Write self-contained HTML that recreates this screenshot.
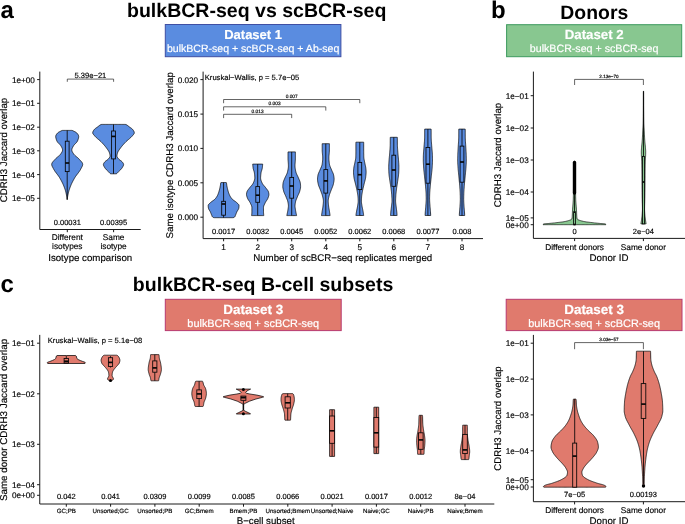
<!DOCTYPE html>
<html><head><meta charset="utf-8"><title>Figure</title>
<style>
html,body{margin:0;padding:0;background:#fff;}
svg{display:block;font-family:"Liberation Sans", Arial, Helvetica, sans-serif;text-rendering:geometricPrecision;}
</style></head>
<body>
<svg width="685" height="524" viewBox="0 0 685 524">
<rect x="0" y="0" width="685" height="524" fill="#fff"/>
<g style="will-change:opacity">
<text x="0.4" y="17.8" font-size="24" text-anchor="start" font-weight="bold" fill="#000">a</text>
<text x="491" y="17.8" font-size="24" text-anchor="start" font-weight="bold" fill="#000">b</text>
<text x="0.4" y="292" font-size="24" text-anchor="start" font-weight="bold" fill="#000">c</text>
<text x="256.7" y="17" font-size="19.55" text-anchor="middle" font-weight="bold" fill="#000">bulkBCR-seq vs scBCR-seq</text>
<text x="594.3" y="19" font-size="19.4" text-anchor="middle" font-weight="bold" fill="#000">Donors</text>
<text x="263.1" y="291" font-size="19.55" text-anchor="middle" font-weight="bold" fill="#000">bulkBCR-seq B-cell subsets</text>
<rect x="165.3" y="24.5" width="175.6" height="32.2" fill="#5A8CE0" stroke="#3F4FA3" stroke-width="1"/>
<text x="253.1" y="38.8" font-size="13" text-anchor="middle" font-weight="bold" fill="#fff" stroke="#fff" stroke-width="0.18">Dataset 1</text>
<text x="253.1" y="51.7" font-size="10.55" text-anchor="middle" font-weight="normal" fill="#fff" stroke="#fff" stroke-width="0.18">bulkBCR-seq + scBCR-seq + Ab-seq</text>
<rect x="506.6" y="24.7" width="175.1" height="32" fill="#88C790" stroke="#3C9A5E" stroke-width="1"/>
<text x="594.15" y="39" font-size="13.25" text-anchor="middle" font-weight="bold" fill="#fff" stroke="#fff" stroke-width="0.18">Dataset 2</text>
<text x="594.15" y="51.9" font-size="10.65" text-anchor="middle" font-weight="normal" fill="#fff" stroke="#fff" stroke-width="0.18">bulkBCR-seq + scBCR-seq</text>
<rect x="165.3" y="299.3" width="175.9" height="31.3" fill="#E07A6D" stroke="#B83A70" stroke-width="1"/>
<text x="253.25" y="313.6" font-size="13.45" text-anchor="middle" font-weight="bold" fill="#fff" stroke="#fff" stroke-width="0.18">Dataset 3</text>
<text x="253.25" y="326.5" font-size="10.92" text-anchor="middle" font-weight="normal" fill="#fff" stroke="#fff" stroke-width="0.18">bulkBCR-seq + scBCR-seq</text>
<rect x="506.2" y="299.3" width="175.8" height="31.3" fill="#E07A6D" stroke="#B83A70" stroke-width="1"/>
<text x="594.1" y="313.6" font-size="13.45" text-anchor="middle" font-weight="bold" fill="#fff" stroke="#fff" stroke-width="0.18">Dataset 3</text>
<text x="594.1" y="326.5" font-size="10.92" text-anchor="middle" font-weight="normal" fill="#fff" stroke="#fff" stroke-width="0.18">bulkBCR-seq + scBCR-seq</text>
<path d="M39.8,71.6 V229.5 H140.7" fill="none" stroke="#1a1a1a" stroke-width="1.0"/>
<line x1="37.1" y1="79.6" x2="39.8" y2="79.6" stroke="#1a1a1a" stroke-width="1.0"/>
<line x1="37.1" y1="103.3" x2="39.8" y2="103.3" stroke="#1a1a1a" stroke-width="1.0"/>
<line x1="37.1" y1="127.2" x2="39.8" y2="127.2" stroke="#1a1a1a" stroke-width="1.0"/>
<line x1="37.1" y1="150.8" x2="39.8" y2="150.8" stroke="#1a1a1a" stroke-width="1.0"/>
<line x1="37.1" y1="174.6" x2="39.8" y2="174.6" stroke="#1a1a1a" stroke-width="1.0"/>
<line x1="37.1" y1="198.3" x2="39.8" y2="198.3" stroke="#1a1a1a" stroke-width="1.0"/>
<line x1="67.3" y1="229.5" x2="67.3" y2="232.2" stroke="#1a1a1a" stroke-width="1.0"/>
<line x1="113.6" y1="229.5" x2="113.6" y2="232.2" stroke="#1a1a1a" stroke-width="1.0"/>
<text x="34.9" y="82.5" font-size="8.2" text-anchor="end" font-weight="normal" fill="#000" stroke="#000" stroke-width="0.16">1e+00</text>
<text x="34.9" y="106.2" font-size="8.2" text-anchor="end" font-weight="normal" fill="#000" stroke="#000" stroke-width="0.16">1e−01</text>
<text x="34.9" y="130.1" font-size="8.2" text-anchor="end" font-weight="normal" fill="#000" stroke="#000" stroke-width="0.16">1e−02</text>
<text x="34.9" y="153.7" font-size="8.2" text-anchor="end" font-weight="normal" fill="#000" stroke="#000" stroke-width="0.16">1e−03</text>
<text x="34.9" y="177.5" font-size="8.2" text-anchor="end" font-weight="normal" fill="#000" stroke="#000" stroke-width="0.16">1e−04</text>
<text x="34.9" y="201.2" font-size="8.2" text-anchor="end" font-weight="normal" fill="#000" stroke="#000" stroke-width="0.16">1e−05</text>
<text x="6.9" y="150" font-size="9.7" text-anchor="middle" font-weight="normal" fill="#000" stroke="#000" stroke-width="0.16" transform="rotate(-90 6.9 150)">CDRH3 Jaccard overlap</text>
<path d="M67.3,81.8 V79.1 H113.6 V81.8" fill="none" stroke="#111" stroke-width="0.65"/>
<text x="90.4" y="78" font-size="7.6" text-anchor="middle" font-weight="normal" fill="#000" stroke="#000" stroke-width="0.16">5.39e−21</text>
<path d="M67.2,130.4 L68.01,130.4 L68.81,130.4 L69.59,130.4 L70.37,130.4 L71.13,130.4 L71.7,130.4 L71.89,130.41 L72.63,130.61 L73.35,130.97 L74,131.3 L74.06,131.33 L74.79,131.68 L75.51,132.06 L76.18,132.48 L76.75,132.95 L76.8,133 L77.25,133.5 L77.76,134.16 L78.21,134.87 L78.54,135.62 L78.7,136.36 L78.7,136.5 L78.67,137.1 L78.54,137.87 L78.35,138.65 L78.1,139.43 L77.83,140.19 L77.54,140.9 L77.5,141 L77.21,141.56 L76.78,142.18 L76.26,142.78 L75.69,143.35 L75.11,143.93 L74.54,144.51 L74.01,145.1 L73.56,145.73 L73.4,146 L73.18,146.4 L72.79,147.11 L72.41,147.84 L72.09,148.59 L71.87,149.33 L71.8,150 L71.8,150.06 L71.91,150.79 L72.18,151.52 L72.56,152.25 L73,152.96 L73.45,153.63 L73.7,154 L73.88,154.26 L74.36,154.83 L74.9,155.38 L75.49,155.91 L76.1,156.41 L76.73,156.92 L77.36,157.43 L77.96,157.95 L78.53,158.49 L79,159 L79.05,159.06 L79.59,159.66 L80.17,160.27 L80.76,160.9 L81.33,161.55 L81.84,162.2 L82.26,162.87 L82.55,163.54 L82.69,164.22 L82.7,164.4 L82.66,164.91 L82.47,165.63 L82.18,166.37 L81.82,167.11 L81.42,167.84 L81.03,168.56 L80.8,169 L80.67,169.25 L80.29,169.93 L79.88,170.59 L79.45,171.24 L79.01,171.88 L78.54,172.51 L78.07,173.14 L77.59,173.77 L77.1,174.39 L76.63,175.02 L76.16,175.66 L75.7,176.29 L75.26,176.94 L74.84,177.6 L74.6,178 L74.44,178.27 L74.06,178.95 L73.68,179.63 L73.3,180.32 L72.93,181.01 L72.57,181.71 L72.21,182.41 L71.87,183.11 L71.53,183.82 L71.21,184.54 L70.9,185.26 L70.61,185.98 L70.6,186 L70.32,186.7 L70.05,187.43 L69.77,188.17 L69.51,188.91 L69.27,189.65 L69.03,190.4 L68.82,191.16 L68.62,191.91 L68.6,192 L68.44,192.67 L68.27,193.42 L68.1,194.19 L67.94,194.95 L67.79,195.72 L67.65,196.49 L67.52,197.26 L67.4,198.04 L67.29,198.82 L67.2,199.6 L67.2,199.6 L67.11,198.82 L67,198.04 L66.88,197.26 L66.75,196.49 L66.61,195.72 L66.46,194.95 L66.3,194.19 L66.13,193.42 L65.96,192.67 L65.8,192 L65.78,191.91 L65.58,191.16 L65.37,190.4 L65.13,189.65 L64.89,188.91 L64.63,188.17 L64.35,187.43 L64.08,186.7 L63.8,186 L63.79,185.98 L63.5,185.26 L63.19,184.54 L62.87,183.82 L62.53,183.11 L62.19,182.41 L61.83,181.71 L61.47,181.01 L61.1,180.32 L60.72,179.63 L60.34,178.95 L59.96,178.27 L59.8,178 L59.56,177.6 L59.14,176.94 L58.7,176.29 L58.24,175.66 L57.77,175.02 L57.3,174.39 L56.81,173.77 L56.33,173.14 L55.86,172.51 L55.39,171.88 L54.95,171.24 L54.52,170.59 L54.11,169.93 L53.73,169.25 L53.6,169 L53.37,168.56 L52.98,167.84 L52.58,167.11 L52.22,166.37 L51.93,165.63 L51.74,164.91 L51.7,164.4 L51.71,164.22 L51.85,163.54 L52.14,162.87 L52.56,162.2 L53.07,161.55 L53.64,160.9 L54.23,160.27 L54.81,159.66 L55.35,159.06 L55.4,159 L55.87,158.49 L56.44,157.95 L57.04,157.43 L57.67,156.92 L58.3,156.41 L58.91,155.91 L59.5,155.38 L60.04,154.83 L60.52,154.26 L60.7,154 L60.95,153.63 L61.4,152.96 L61.84,152.25 L62.22,151.52 L62.49,150.79 L62.6,150.06 L62.6,150 L62.53,149.33 L62.31,148.59 L61.99,147.84 L61.61,147.11 L61.22,146.4 L61,146 L60.84,145.73 L60.39,145.1 L59.86,144.51 L59.29,143.93 L58.71,143.35 L58.14,142.78 L57.62,142.18 L57.19,141.56 L56.9,141 L56.86,140.9 L56.57,140.19 L56.3,139.43 L56.05,138.65 L55.86,137.87 L55.73,137.1 L55.7,136.5 L55.7,136.36 L55.86,135.62 L56.19,134.87 L56.64,134.16 L57.15,133.5 L57.6,133 L57.65,132.95 L58.22,132.48 L58.89,132.06 L59.61,131.68 L60.34,131.33 L60.4,131.3 L61.05,130.97 L61.77,130.61 L62.51,130.41 L62.7,130.4 L63.27,130.4 L64.03,130.4 L64.81,130.4 L65.59,130.4 L66.39,130.4 L67.2,130.4Z" fill="#5A8CE0" stroke="#0a0a0a" stroke-width="0.75" stroke-linejoin="round"/>
<line x1="67.2" y1="130.4" x2="67.2" y2="199.6" stroke="#050505" stroke-width="0.85"/>
<rect x="65.3" y="141.2" width="3.8" height="30.4" fill="#5A8CE0" stroke="#050505" stroke-width="0.85"/>
<line x1="65.3" y1="163" x2="69.1" y2="163" stroke="#050505" stroke-width="1.65"/>
<path d="M113.5,124.4 L114.35,124.4 L115.19,124.4 L116.02,124.4 L116.84,124.4 L117.64,124.4 L118.44,124.4 L119.23,124.4 L120.01,124.4 L120.77,124.4 L121.53,124.4 L122.28,124.4 L123.03,124.4 L123.76,124.4 L124.49,124.4 L125.1,124.4 L125.2,124.4 L125.91,124.54 L126.6,124.85 L127.28,125.28 L127.95,125.78 L128.6,126.31 L129.25,126.82 L129.5,127 L129.89,127.27 L130.55,127.72 L131.22,128.19 L131.85,128.68 L132.44,129.21 L132.93,129.77 L133.1,130 L133.35,130.38 L133.76,131.09 L134.1,131.85 L134.29,132.59 L134.3,132.8 L134.23,133.28 L133.9,133.96 L133.41,134.62 L132.85,135.26 L132.3,135.88 L132.2,136 L131.8,136.47 L131.28,137.03 L130.72,137.57 L130.15,138.09 L129.55,138.61 L128.95,139.12 L128.34,139.62 L127.74,140.13 L127.14,140.64 L126.56,141.17 L125.99,141.71 L125.7,142 L125.45,142.26 L124.9,142.83 L124.37,143.4 L123.83,143.97 L123.3,144.55 L122.78,145.14 L122.27,145.73 L121.77,146.34 L121.29,146.95 L120.82,147.56 L120.5,148 L120.36,148.19 L119.9,148.83 L119.43,149.47 L118.97,150.13 L118.54,150.8 L118.14,151.48 L117.8,152.17 L117.54,152.88 L117.5,153 L117.32,153.62 L117.12,154.41 L116.97,155.19 L116.9,155.94 L116.9,156 L117.02,156.66 L117.38,157.36 L117.88,158.03 L118.42,158.67 L118.7,159 L118.92,159.25 L119.5,159.76 L120.15,160.23 L120.82,160.69 L121.46,161.17 L122.03,161.68 L122.3,162 L122.5,162.27 L122.98,162.94 L123.39,163.66 L123.6,164.38 L123.6,164.5 L123.53,165.09 L123.27,165.83 L122.9,166.56 L122.47,167.27 L122.04,167.94 L122,168 L121.61,168.56 L121.12,169.15 L120.58,169.73 L120.01,170.28 L119.42,170.83 L118.85,171.36 L118.7,171.5 L118.28,171.94 L117.72,172.61 L117.14,173.23 L116.52,173.67 L116,173.8 L115.86,173.8 L115.13,173.8 L114.34,173.8 L113.5,173.8 L113.5,173.8 L112.66,173.8 L111.87,173.8 L111.14,173.8 L111,173.8 L110.48,173.67 L109.86,173.23 L109.28,172.61 L108.72,171.94 L108.3,171.5 L108.15,171.36 L107.58,170.83 L106.99,170.28 L106.42,169.73 L105.88,169.15 L105.39,168.56 L105,168 L104.96,167.94 L104.53,167.27 L104.1,166.56 L103.73,165.83 L103.47,165.09 L103.4,164.5 L103.4,164.38 L103.61,163.66 L104.02,162.94 L104.5,162.27 L104.7,162 L104.97,161.68 L105.54,161.17 L106.18,160.69 L106.85,160.23 L107.5,159.76 L108.08,159.25 L108.3,159 L108.58,158.67 L109.12,158.03 L109.62,157.36 L109.98,156.66 L110.1,156 L110.1,155.94 L110.03,155.19 L109.88,154.41 L109.68,153.62 L109.5,153 L109.46,152.88 L109.2,152.17 L108.86,151.48 L108.46,150.8 L108.03,150.13 L107.57,149.47 L107.1,148.83 L106.64,148.19 L106.5,148 L106.18,147.56 L105.71,146.95 L105.23,146.34 L104.73,145.73 L104.22,145.14 L103.7,144.55 L103.17,143.97 L102.63,143.4 L102.1,142.83 L101.55,142.26 L101.3,142 L101.01,141.71 L100.44,141.17 L99.86,140.64 L99.26,140.13 L98.66,139.62 L98.05,139.12 L97.45,138.61 L96.85,138.09 L96.28,137.57 L95.72,137.03 L95.2,136.47 L94.8,136 L94.7,135.88 L94.15,135.26 L93.59,134.62 L93.1,133.96 L92.77,133.28 L92.7,132.8 L92.71,132.59 L92.9,131.85 L93.24,131.09 L93.65,130.38 L93.9,130 L94.07,129.77 L94.56,129.21 L95.15,128.68 L95.78,128.19 L96.45,127.72 L97.11,127.27 L97.5,127 L97.75,126.82 L98.4,126.31 L99.05,125.78 L99.72,125.28 L100.4,124.85 L101.09,124.54 L101.8,124.4 L101.9,124.4 L102.51,124.4 L103.24,124.4 L103.97,124.4 L104.72,124.4 L105.47,124.4 L106.23,124.4 L106.99,124.4 L107.77,124.4 L108.56,124.4 L109.36,124.4 L110.16,124.4 L110.98,124.4 L111.81,124.4 L112.65,124.4 L113.5,124.4Z" fill="#5A8CE0" stroke="#0a0a0a" stroke-width="0.75" stroke-linejoin="round"/>
<line x1="113.5" y1="124.4" x2="113.5" y2="173.8" stroke="#050505" stroke-width="0.85"/>
<rect x="111.6" y="131" width="3.8" height="27.9" fill="#5A8CE0" stroke="#050505" stroke-width="0.85"/>
<line x1="111.6" y1="136.4" x2="115.4" y2="136.4" stroke="#050505" stroke-width="1.65"/>
<text x="67.3" y="225" font-size="7.5" text-anchor="middle" font-weight="normal" fill="#000" stroke="#000" stroke-width="0.16">0.00031</text>
<text x="113.6" y="225" font-size="7.5" text-anchor="middle" font-weight="normal" fill="#000" stroke="#000" stroke-width="0.16">0.00395</text>
<text x="67.3" y="240.4" font-size="8.3" text-anchor="middle" font-weight="normal" fill="#000" stroke="#000" stroke-width="0.16">Different</text>
<text x="67.3" y="248.9" font-size="8.3" text-anchor="middle" font-weight="normal" fill="#000" stroke="#000" stroke-width="0.16">isotypes</text>
<text x="113.6" y="240.4" font-size="8.3" text-anchor="middle" font-weight="normal" fill="#000" stroke="#000" stroke-width="0.16">Same</text>
<text x="113.6" y="248.9" font-size="8.3" text-anchor="middle" font-weight="normal" fill="#000" stroke="#000" stroke-width="0.16">isotype</text>
<text x="90.2" y="260.5" font-size="9.7" text-anchor="middle" font-weight="normal" fill="#000" stroke="#000" stroke-width="0.16">Isotype comparison</text>
<path d="M203.1,71.6 V238.6 H483" fill="none" stroke="#1a1a1a" stroke-width="1.0"/>
<line x1="200.4" y1="79.6" x2="203.1" y2="79.6" stroke="#1a1a1a" stroke-width="1.0"/>
<line x1="200.4" y1="114.1" x2="203.1" y2="114.1" stroke="#1a1a1a" stroke-width="1.0"/>
<line x1="200.4" y1="148.4" x2="203.1" y2="148.4" stroke="#1a1a1a" stroke-width="1.0"/>
<line x1="200.4" y1="182.8" x2="203.1" y2="182.8" stroke="#1a1a1a" stroke-width="1.0"/>
<line x1="200.4" y1="217.2" x2="203.1" y2="217.2" stroke="#1a1a1a" stroke-width="1.0"/>
<line x1="223.6" y1="238.6" x2="223.6" y2="241.3" stroke="#1a1a1a" stroke-width="1.0"/>
<line x1="257.7" y1="238.6" x2="257.7" y2="241.3" stroke="#1a1a1a" stroke-width="1.0"/>
<line x1="291.7" y1="238.6" x2="291.7" y2="241.3" stroke="#1a1a1a" stroke-width="1.0"/>
<line x1="325.8" y1="238.6" x2="325.8" y2="241.3" stroke="#1a1a1a" stroke-width="1.0"/>
<line x1="359.8" y1="238.6" x2="359.8" y2="241.3" stroke="#1a1a1a" stroke-width="1.0"/>
<line x1="393.8" y1="238.6" x2="393.8" y2="241.3" stroke="#1a1a1a" stroke-width="1.0"/>
<line x1="427.9" y1="238.6" x2="427.9" y2="241.3" stroke="#1a1a1a" stroke-width="1.0"/>
<line x1="462" y1="238.6" x2="462" y2="241.3" stroke="#1a1a1a" stroke-width="1.0"/>
<text x="198.2" y="82.5" font-size="8.2" text-anchor="end" font-weight="normal" fill="#000" stroke="#000" stroke-width="0.16">0.020</text>
<text x="198.2" y="117" font-size="8.2" text-anchor="end" font-weight="normal" fill="#000" stroke="#000" stroke-width="0.16">0.015</text>
<text x="198.2" y="151.3" font-size="8.2" text-anchor="end" font-weight="normal" fill="#000" stroke="#000" stroke-width="0.16">0.010</text>
<text x="198.2" y="185.7" font-size="8.2" text-anchor="end" font-weight="normal" fill="#000" stroke="#000" stroke-width="0.16">0.005</text>
<text x="198.2" y="220.1" font-size="8.2" text-anchor="end" font-weight="normal" fill="#000" stroke="#000" stroke-width="0.16">0.000</text>
<text x="173.5" y="155.3" font-size="9.72" text-anchor="middle" font-weight="normal" fill="#000" stroke="#000" stroke-width="0.16" transform="rotate(-90 173.5 155.3)">Same isotype CDRH3 Jaccard overlap</text>
<text x="204.8" y="80" font-size="7.6" text-anchor="start" font-weight="normal" fill="#000" stroke="#000" stroke-width="0.16">Kruskal−Wallis, p = 5.7e−05</text>
<path d="M223.6,118.1 V114.3 H291.7 V118.1" fill="none" stroke="#111" stroke-width="0.65"/>
<text x="257.6" y="112.6" font-size="4.8" text-anchor="middle" font-weight="normal" fill="#000" stroke="#000" stroke-width="0.16">0.013</text>
<path d="M223.6,110.6 V106.8 H325.8 V110.6" fill="none" stroke="#111" stroke-width="0.65"/>
<text x="274.6" y="105.1" font-size="4.8" text-anchor="middle" font-weight="normal" fill="#000" stroke="#000" stroke-width="0.16">0.003</text>
<path d="M223.6,103.2 V99.5 H359.8 V103.2" fill="none" stroke="#111" stroke-width="0.65"/>
<text x="291.7" y="97.7" font-size="4.8" text-anchor="middle" font-weight="normal" fill="#000" stroke="#000" stroke-width="0.16">0.007</text>
<path d="M223.6,182.5 L224.63,182.5 L225.5,182.5 L226.1,182.5 L226.2,182.5 L226.36,182.65 L226.53,183.29 L226.66,184.24 L226.78,185.25 L226.9,186 L226.93,186.12 L227.09,186.89 L227.25,187.66 L227.42,188.43 L227.59,189.2 L227.79,189.96 L227.8,190 L228,190.72 L228.22,191.48 L228.45,192.24 L228.7,192.99 L228.97,193.73 L229.26,194.45 L229.5,195 L229.57,195.16 L229.93,195.86 L230.32,196.56 L230.75,197.24 L231.2,197.89 L231.68,198.51 L232.1,199 L232.18,199.09 L232.74,199.62 L233.35,200.1 L234.01,200.56 L234.67,201.01 L235.34,201.46 L235.97,201.94 L236.55,202.45 L236.6,202.5 L237.15,203.01 L237.8,203.59 L238.4,204.2 L238.84,204.84 L239,205.5 L239,205.52 L238.97,206.27 L238.91,207.09 L238.82,207.88 L238.8,208 L238.65,208.62 L238.35,209.32 L237.96,210.02 L237.52,210.71 L237.1,211.4 L236.8,212 L236.75,212.11 L236.45,212.84 L236.16,213.57 L235.88,214.31 L235.59,215.04 L235.4,215.5 L235.29,215.77 L234.98,216.52 L234.8,216.8 L234.51,217.1 L233.81,217.5 L233.8,217.5 L233.04,217.67 L232.6,217.7 L232.25,217.7 L231.47,217.7 L230.69,217.7 L229.91,217.7 L229.13,217.7 L228.34,217.7 L227.56,217.7 L226.77,217.7 L225.98,217.7 L225.19,217.7 L224.39,217.7 L223.6,217.7 L223.6,217.7 L222.81,217.7 L222.01,217.7 L221.22,217.7 L220.43,217.7 L219.64,217.7 L218.86,217.7 L218.07,217.7 L217.29,217.7 L216.51,217.7 L215.73,217.7 L214.95,217.7 L214.6,217.7 L214.16,217.67 L213.4,217.5 L213.39,217.5 L212.69,217.1 L212.4,216.8 L212.22,216.52 L211.91,215.77 L211.8,215.5 L211.61,215.04 L211.32,214.31 L211.04,213.57 L210.75,212.84 L210.45,212.11 L210.4,212 L210.1,211.4 L209.68,210.71 L209.24,210.02 L208.85,209.32 L208.55,208.62 L208.4,208 L208.38,207.88 L208.29,207.09 L208.23,206.27 L208.2,205.52 L208.2,205.5 L208.36,204.84 L208.8,204.2 L209.4,203.59 L210.05,203.01 L210.6,202.5 L210.65,202.45 L211.23,201.94 L211.86,201.46 L212.53,201.01 L213.19,200.56 L213.85,200.1 L214.46,199.62 L215.02,199.09 L215.1,199 L215.52,198.51 L216,197.89 L216.45,197.24 L216.88,196.56 L217.27,195.86 L217.63,195.16 L217.7,195 L217.94,194.45 L218.23,193.73 L218.5,192.99 L218.75,192.24 L218.98,191.48 L219.2,190.72 L219.4,190 L219.41,189.96 L219.61,189.2 L219.78,188.43 L219.95,187.66 L220.11,186.89 L220.27,186.12 L220.3,186 L220.42,185.25 L220.54,184.24 L220.67,183.29 L220.84,182.65 L221,182.5 L221.1,182.5 L221.7,182.5 L222.57,182.5 L223.6,182.5Z" fill="#5A8CE0" stroke="#0a0a0a" stroke-width="0.75" stroke-linejoin="round"/>
<line x1="223.6" y1="182.5" x2="223.6" y2="217.7" stroke="#050505" stroke-width="0.85"/>
<rect x="221.7" y="201.3" width="3.8" height="13.9" fill="#5A8CE0" stroke="#050505" stroke-width="0.85"/>
<line x1="221.7" y1="204" x2="225.5" y2="204" stroke="#050505" stroke-width="1.65"/>
<path d="M257.7,164.1 L258.93,164.1 L260.05,164.1 L261.03,164.1 L261.82,164.1 L262.39,164.1 L262.67,164.1 L262.7,164.1 L262.69,164.2 L262.64,164.76 L262.56,165.64 L262.46,166.66 L262.35,167.64 L262.3,168 L262.23,168.43 L262.04,169.19 L261.82,169.94 L261.58,170.69 L261.34,171.44 L261.14,172.19 L261.01,172.95 L261,173 L260.91,173.72 L260.82,174.5 L260.74,175.28 L260.68,176.07 L260.63,176.85 L260.6,177.62 L260.6,178 L260.61,178.39 L260.71,179.16 L260.9,179.93 L261.14,180.69 L261.43,181.44 L261.73,182.17 L262.04,182.87 L262.1,183 L262.37,183.54 L262.78,184.18 L263.24,184.81 L263.74,185.41 L264.27,186.01 L264.8,186.62 L265.31,187.22 L265.79,187.85 L265.9,188 L266.25,188.48 L266.75,189.11 L267.26,189.75 L267.73,190.4 L268.13,191.06 L268.43,191.75 L268.5,192 L268.62,192.47 L268.78,193.24 L268.88,194.03 L268.9,194.5 L268.89,194.8 L268.78,195.57 L268.58,196.34 L268.33,197.09 L268.06,197.83 L268,198 L267.78,198.54 L267.43,199.22 L267.02,199.89 L266.58,200.55 L266.13,201.2 L265.71,201.87 L265.32,202.55 L265.1,203 L264.99,203.25 L264.65,203.96 L264.3,204.69 L263.97,205.42 L263.71,206.16 L263.54,206.91 L263.5,207.5 L263.5,207.67 L263.5,208.44 L263.5,209.22 L263.5,210 L263.5,210.79 L263.5,211.57 L263.5,212 L263.51,212.38 L263.57,213.37 L263.66,214.38 L263.75,215.19 L263.8,215.59 L263.8,215.6 L263.71,215.6 L263.39,215.6 L262.84,215.6 L262.11,215.6 L261.2,215.6 L260.14,215.6 L258.97,215.6 L257.7,215.6 L257.7,215.6 L256.43,215.6 L255.26,215.6 L254.2,215.6 L253.29,215.6 L252.56,215.6 L252.01,215.6 L251.69,215.6 L251.6,215.6 L251.6,215.59 L251.65,215.19 L251.74,214.38 L251.83,213.37 L251.89,212.38 L251.9,212 L251.9,211.57 L251.9,210.79 L251.9,210 L251.9,209.22 L251.9,208.44 L251.9,207.67 L251.9,207.5 L251.86,206.91 L251.69,206.16 L251.43,205.42 L251.1,204.69 L250.75,203.96 L250.41,203.25 L250.3,203 L250.08,202.55 L249.69,201.87 L249.27,201.2 L248.82,200.55 L248.38,199.89 L247.97,199.22 L247.62,198.54 L247.4,198 L247.34,197.83 L247.07,197.09 L246.82,196.34 L246.62,195.57 L246.51,194.8 L246.5,194.5 L246.52,194.03 L246.62,193.24 L246.78,192.47 L246.9,192 L246.97,191.75 L247.27,191.06 L247.67,190.4 L248.14,189.75 L248.65,189.11 L249.15,188.48 L249.5,188 L249.61,187.85 L250.09,187.22 L250.6,186.62 L251.13,186.01 L251.66,185.41 L252.16,184.81 L252.62,184.18 L253.03,183.54 L253.3,183 L253.36,182.87 L253.67,182.17 L253.97,181.44 L254.26,180.69 L254.5,179.93 L254.69,179.16 L254.79,178.39 L254.8,178 L254.8,177.62 L254.77,176.85 L254.72,176.07 L254.66,175.28 L254.58,174.5 L254.49,173.72 L254.4,173 L254.39,172.95 L254.26,172.19 L254.06,171.44 L253.82,170.69 L253.58,169.94 L253.36,169.19 L253.17,168.43 L253.1,168 L253.05,167.64 L252.94,166.66 L252.84,165.64 L252.76,164.76 L252.71,164.2 L252.7,164.1 L252.73,164.1 L253.01,164.1 L253.58,164.1 L254.37,164.1 L255.35,164.1 L256.47,164.1 L257.7,164.1Z" fill="#5A8CE0" stroke="#0a0a0a" stroke-width="0.75" stroke-linejoin="round"/>
<line x1="257.7" y1="164.1" x2="257.7" y2="215.6" stroke="#050505" stroke-width="0.85"/>
<rect x="255.8" y="186.6" width="3.8" height="15.7" fill="#5A8CE0" stroke="#050505" stroke-width="0.85"/>
<line x1="255.8" y1="195.2" x2="259.6" y2="195.2" stroke="#050505" stroke-width="1.65"/>
<path d="M291.7,151.9 L292.8,151.9 L293.84,151.9 L294.71,151.9 L295.27,151.9 L295.4,151.9 L295.4,151.91 L295.4,152.2 L295.4,152.78 L295.4,153.59 L295.4,154.56 L295.4,155.59 L295.4,156.61 L295.4,157.56 L295.4,158 L295.4,158.37 L295.38,159.15 L295.34,159.93 L295.29,160.71 L295.24,161.5 L295.18,162.28 L295.12,163.06 L295.07,163.84 L295.03,164.62 L295.01,165.4 L295,166 L295,166.18 L295.03,166.96 L295.1,167.74 L295.21,168.52 L295.33,169.3 L295.48,170.08 L295.64,170.85 L295.81,171.6 L295.9,172 L295.99,172.35 L296.22,173.08 L296.51,173.8 L296.83,174.51 L297.18,175.22 L297.54,175.93 L297.89,176.64 L298.23,177.36 L298.5,178 L298.53,178.08 L298.83,178.81 L299.15,179.53 L299.47,180.26 L299.76,181 L300.01,181.73 L300.21,182.48 L300.3,183 L300.33,183.24 L300.43,184.01 L300.51,184.79 L300.57,185.58 L300.6,186.36 L300.6,186.5 L300.58,187.14 L300.49,187.92 L300.35,188.69 L300.18,189.47 L299.99,190.23 L299.8,190.98 L299.8,191 L299.59,191.72 L299.33,192.45 L299.03,193.17 L298.71,193.89 L298.37,194.6 L298.03,195.32 L297.7,196.03 L297.4,196.76 L297.3,197 L297.11,197.49 L296.8,198.21 L296.5,198.94 L296.2,199.67 L295.93,200.41 L295.7,201.15 L295.52,201.9 L295.5,202 L295.38,202.66 L295.24,203.44 L295.13,204.22 L295.04,205 L295,205.78 L295,206 L295.02,206.56 L295.09,207.33 L295.19,208.11 L295.32,208.89 L295.45,209.66 L295.5,210 L295.57,210.46 L295.74,211.41 L295.94,212.42 L296.14,213.42 L296.33,214.32 L296.48,215.04 L296.58,215.49 L296.6,215.6 L296.59,215.6 L296.33,215.6 L295.78,215.6 L294.98,215.6 L294,215.6 L292.89,215.6 L291.7,215.6 L291.7,215.6 L290.51,215.6 L289.4,215.6 L288.42,215.6 L287.62,215.6 L287.07,215.6 L286.81,215.6 L286.8,215.6 L286.82,215.49 L286.92,215.04 L287.07,214.32 L287.26,213.42 L287.46,212.42 L287.66,211.41 L287.83,210.46 L287.9,210 L287.95,209.66 L288.08,208.89 L288.21,208.11 L288.31,207.33 L288.38,206.56 L288.4,206 L288.4,205.78 L288.36,205 L288.27,204.22 L288.16,203.44 L288.02,202.66 L287.9,202 L287.88,201.9 L287.7,201.15 L287.47,200.41 L287.2,199.67 L286.9,198.94 L286.6,198.21 L286.29,197.49 L286.1,197 L286,196.76 L285.7,196.03 L285.37,195.32 L285.03,194.6 L284.69,193.89 L284.37,193.17 L284.07,192.45 L283.81,191.72 L283.6,191 L283.6,190.98 L283.41,190.23 L283.22,189.47 L283.05,188.69 L282.91,187.92 L282.82,187.14 L282.8,186.5 L282.8,186.36 L282.83,185.58 L282.89,184.79 L282.97,184.01 L283.07,183.24 L283.1,183 L283.19,182.48 L283.39,181.73 L283.64,181 L283.93,180.26 L284.25,179.53 L284.57,178.81 L284.87,178.08 L284.9,178 L285.17,177.36 L285.51,176.64 L285.86,175.93 L286.22,175.22 L286.57,174.51 L286.89,173.8 L287.18,173.08 L287.41,172.35 L287.5,172 L287.59,171.6 L287.76,170.85 L287.92,170.08 L288.07,169.3 L288.19,168.52 L288.3,167.74 L288.37,166.96 L288.4,166.18 L288.4,166 L288.39,165.4 L288.37,164.62 L288.33,163.84 L288.28,163.06 L288.22,162.28 L288.16,161.5 L288.11,160.71 L288.06,159.93 L288.02,159.15 L288,158.37 L288,158 L288,157.56 L288,156.61 L288,155.59 L288,154.56 L288,153.59 L288,152.78 L288,152.2 L288,151.91 L288,151.9 L288.13,151.9 L288.69,151.9 L289.56,151.9 L290.6,151.9 L291.7,151.9Z" fill="#5A8CE0" stroke="#0a0a0a" stroke-width="0.75" stroke-linejoin="round"/>
<line x1="291.7" y1="151.9" x2="291.7" y2="215.6" stroke="#050505" stroke-width="0.85"/>
<rect x="289.8" y="177.4" width="3.8" height="20.8" fill="#5A8CE0" stroke="#050505" stroke-width="0.85"/>
<line x1="289.8" y1="186" x2="293.6" y2="186" stroke="#050505" stroke-width="1.65"/>
<path d="M325.8,143.7 L326.88,143.7 L327.92,143.7 L328.77,143.7 L329.3,143.7 L329.4,143.7 L329.4,143.73 L329.4,144.03 L329.4,144.62 L329.4,145.43 L329.4,146.38 L329.4,147.4 L329.4,148.43 L329.4,149.39 L329.4,150 L329.4,150.21 L329.38,150.99 L329.34,151.76 L329.28,152.54 L329.21,153.32 L329.14,154.09 L329.07,154.87 L329,155.64 L328.95,156.42 L328.91,157.19 L328.9,157.97 L328.9,158 L328.91,158.75 L328.94,159.53 L328.99,160.31 L329.06,161.09 L329.13,161.87 L329.22,162.64 L329.32,163.41 L329.4,164 L329.42,164.16 L329.58,164.91 L329.8,165.65 L330.06,166.38 L330.35,167.11 L330.67,167.83 L330.99,168.55 L331.31,169.28 L331.6,170 L331.6,170 L331.9,170.72 L332.23,171.44 L332.57,172.15 L332.89,172.87 L333.19,173.59 L333.43,174.32 L333.6,175 L333.61,175.06 L333.75,175.81 L333.88,176.58 L333.99,177.36 L334.07,178.14 L334.1,178.92 L334.1,179 L334.08,179.69 L334.02,180.47 L333.92,181.24 L333.79,182.02 L333.64,182.79 L333.49,183.55 L333.4,184 L333.33,184.3 L333.14,185.04 L332.89,185.78 L332.62,186.5 L332.33,187.23 L332.02,187.95 L331.72,188.68 L331.42,189.4 L331.2,190 L331.15,190.13 L330.88,190.86 L330.6,191.59 L330.32,192.32 L330.04,193.05 L329.77,193.78 L329.52,194.52 L329.29,195.26 L329.1,196 L329.1,196.01 L328.91,196.76 L328.73,197.52 L328.55,198.28 L328.39,199.05 L328.28,199.82 L328.21,200.6 L328.2,201 L328.2,201.37 L328.23,202.14 L328.28,202.92 L328.35,203.69 L328.43,204.47 L328.52,205.25 L328.6,206 L328.6,206.02 L328.7,206.79 L328.81,207.56 L328.94,208.33 L329.07,209.09 L329.21,209.86 L329.34,210.63 L329.4,211 L329.47,211.43 L329.61,212.38 L329.77,213.4 L329.91,214.36 L330.03,215.11 L330.09,215.55 L330.1,215.6 L330.04,215.6 L329.66,215.6 L328.98,215.6 L328.06,215.6 L326.98,215.6 L325.8,215.6 L325.8,215.6 L324.62,215.6 L323.54,215.6 L322.62,215.6 L321.94,215.6 L321.56,215.6 L321.5,215.6 L321.51,215.55 L321.57,215.11 L321.69,214.36 L321.83,213.4 L321.99,212.38 L322.13,211.43 L322.2,211 L322.26,210.63 L322.39,209.86 L322.53,209.09 L322.66,208.33 L322.79,207.56 L322.9,206.79 L323,206.02 L323,206 L323.08,205.25 L323.17,204.47 L323.25,203.69 L323.32,202.92 L323.37,202.14 L323.4,201.37 L323.4,201 L323.39,200.6 L323.32,199.82 L323.21,199.05 L323.05,198.28 L322.87,197.52 L322.69,196.76 L322.5,196.01 L322.5,196 L322.31,195.26 L322.08,194.52 L321.83,193.78 L321.56,193.05 L321.28,192.32 L321,191.59 L320.72,190.86 L320.45,190.13 L320.4,190 L320.18,189.4 L319.88,188.68 L319.58,187.95 L319.27,187.23 L318.98,186.5 L318.71,185.78 L318.46,185.04 L318.27,184.3 L318.2,184 L318.11,183.55 L317.96,182.79 L317.81,182.02 L317.68,181.24 L317.58,180.47 L317.52,179.69 L317.5,179 L317.5,178.92 L317.53,178.14 L317.61,177.36 L317.72,176.58 L317.85,175.81 L317.99,175.06 L318,175 L318.17,174.32 L318.41,173.59 L318.71,172.87 L319.03,172.15 L319.37,171.44 L319.7,170.72 L320,170 L320,170 L320.29,169.28 L320.61,168.55 L320.93,167.83 L321.25,167.11 L321.54,166.38 L321.8,165.65 L322.02,164.91 L322.18,164.16 L322.2,164 L322.28,163.41 L322.38,162.64 L322.47,161.87 L322.54,161.09 L322.61,160.31 L322.66,159.53 L322.69,158.75 L322.7,158 L322.7,157.97 L322.69,157.19 L322.65,156.42 L322.6,155.64 L322.53,154.87 L322.46,154.09 L322.39,153.32 L322.32,152.54 L322.26,151.76 L322.22,150.99 L322.2,150.21 L322.2,150 L322.2,149.39 L322.2,148.43 L322.2,147.4 L322.2,146.38 L322.2,145.43 L322.2,144.62 L322.2,144.03 L322.2,143.73 L322.2,143.7 L322.3,143.7 L322.83,143.7 L323.68,143.7 L324.72,143.7 L325.8,143.7Z" fill="#5A8CE0" stroke="#0a0a0a" stroke-width="0.75" stroke-linejoin="round"/>
<line x1="325.8" y1="143.7" x2="325.8" y2="215.6" stroke="#050505" stroke-width="0.85"/>
<rect x="323.9" y="169.6" width="3.8" height="23.5" fill="#5A8CE0" stroke="#050505" stroke-width="0.85"/>
<line x1="323.9" y1="180.9" x2="327.7" y2="180.9" stroke="#050505" stroke-width="1.65"/>
<path d="M359.8,142.2 L360.87,142.2 L361.92,142.2 L362.83,142.2 L363.46,142.2 L363.7,142.2 L363.7,142.2 L363.7,142.35 L363.7,142.76 L363.7,143.4 L363.7,144.2 L363.7,145.13 L363.7,146.14 L363.7,147.17 L363.7,148.2 L363.7,149.15 L363.7,150 L363.7,150 L363.7,150.79 L363.71,151.57 L363.71,152.35 L363.72,153.13 L363.73,153.91 L363.75,154.69 L363.76,155.47 L363.78,156.25 L363.8,157 L363.8,157.03 L363.85,157.8 L363.94,158.57 L364.06,159.34 L364.2,160.11 L364.36,160.88 L364.53,161.65 L364.69,162.42 L364.8,163 L364.83,163.18 L364.99,163.95 L365.17,164.71 L365.34,165.47 L365.51,166.24 L365.66,167 L365.77,167.77 L365.8,168 L365.86,168.54 L365.94,169.32 L366.01,170.1 L366.07,170.88 L366.1,171.66 L366.1,172 L366.1,172.44 L366.07,173.22 L366.01,174 L365.95,174.78 L365.87,175.56 L365.78,176.33 L365.7,177 L365.69,177.1 L365.58,177.87 L365.44,178.64 L365.27,179.4 L365.09,180.16 L364.89,180.92 L364.69,181.67 L364.49,182.43 L364.29,183.19 L364.11,183.95 L364.1,184 L363.93,184.71 L363.75,185.47 L363.57,186.23 L363.38,186.99 L363.2,187.75 L363.02,188.51 L362.85,189.27 L362.69,190.03 L362.54,190.79 L362.5,191 L362.4,191.56 L362.26,192.33 L362.12,193.1 L361.99,193.87 L361.87,194.64 L361.76,195.42 L361.67,196.19 L361.6,196.97 L361.6,197 L361.55,197.74 L361.49,198.52 L361.45,199.3 L361.42,200.08 L361.4,200.86 L361.4,201 L361.42,201.64 L361.47,202.42 L361.56,203.19 L361.68,203.97 L361.8,204.74 L361.92,205.51 L362,206 L362.04,206.28 L362.18,207.05 L362.34,207.82 L362.5,208.58 L362.67,209.34 L362.83,210.11 L362.98,210.87 L363,211 L363.12,211.72 L363.28,212.72 L363.44,213.73 L363.57,214.62 L363.66,215.26 L363.7,215.5 L363.7,215.5 L363.49,215.5 L362.9,215.5 L362.03,215.5 L360.97,215.5 L359.8,215.5 L359.8,215.5 L358.63,215.5 L357.57,215.5 L356.7,215.5 L356.11,215.5 L355.9,215.5 L355.9,215.5 L355.94,215.26 L356.03,214.62 L356.16,213.73 L356.32,212.72 L356.48,211.72 L356.6,211 L356.62,210.87 L356.77,210.11 L356.93,209.34 L357.1,208.58 L357.26,207.82 L357.42,207.05 L357.56,206.28 L357.6,206 L357.68,205.51 L357.8,204.74 L357.92,203.97 L358.04,203.19 L358.13,202.42 L358.18,201.64 L358.2,201 L358.2,200.86 L358.18,200.08 L358.15,199.3 L358.11,198.52 L358.05,197.74 L358,197 L358,196.97 L357.93,196.19 L357.84,195.42 L357.73,194.64 L357.61,193.87 L357.48,193.1 L357.34,192.33 L357.2,191.56 L357.1,191 L357.06,190.79 L356.91,190.03 L356.75,189.27 L356.58,188.51 L356.4,187.75 L356.22,186.99 L356.03,186.23 L355.85,185.47 L355.67,184.71 L355.5,184 L355.49,183.95 L355.31,183.19 L355.11,182.43 L354.91,181.67 L354.71,180.92 L354.51,180.16 L354.33,179.4 L354.16,178.64 L354.02,177.87 L353.91,177.1 L353.9,177 L353.82,176.33 L353.73,175.56 L353.65,174.78 L353.59,174 L353.53,173.22 L353.5,172.44 L353.5,172 L353.5,171.66 L353.53,170.88 L353.59,170.1 L353.66,169.32 L353.74,168.54 L353.8,168 L353.83,167.77 L353.94,167 L354.09,166.24 L354.26,165.47 L354.43,164.71 L354.61,163.95 L354.77,163.18 L354.8,163 L354.91,162.42 L355.07,161.65 L355.24,160.88 L355.4,160.11 L355.54,159.34 L355.66,158.57 L355.75,157.8 L355.8,157.03 L355.8,157 L355.82,156.25 L355.84,155.47 L355.85,154.69 L355.87,153.91 L355.88,153.13 L355.89,152.35 L355.89,151.57 L355.9,150.79 L355.9,150 L355.9,150 L355.9,149.15 L355.9,148.2 L355.9,147.17 L355.9,146.14 L355.9,145.13 L355.9,144.2 L355.9,143.4 L355.9,142.76 L355.9,142.35 L355.9,142.2 L355.9,142.2 L356.14,142.2 L356.77,142.2 L357.68,142.2 L358.73,142.2 L359.8,142.2Z" fill="#5A8CE0" stroke="#0a0a0a" stroke-width="0.75" stroke-linejoin="round"/>
<line x1="359.8" y1="142.2" x2="359.8" y2="215.5" stroke="#050505" stroke-width="0.85"/>
<rect x="357.9" y="162.4" width="3.8" height="27.2" fill="#5A8CE0" stroke="#050505" stroke-width="0.85"/>
<line x1="357.9" y1="174.7" x2="361.7" y2="174.7" stroke="#050505" stroke-width="1.65"/>
<path d="M393.8,137.3 L394.86,137.3 L395.89,137.3 L396.73,137.3 L397.23,137.3 L397.3,137.3 L397.31,137.34 L397.33,137.64 L397.34,138.19 L397.35,138.93 L397.36,139.81 L397.36,140.8 L397.37,141.83 L397.37,142.87 L397.38,143.86 L397.4,144.75 L397.4,145 L397.41,145.54 L397.44,146.32 L397.48,147.1 L397.52,147.89 L397.58,148.67 L397.63,149.45 L397.69,150.23 L397.75,151.01 L397.81,151.79 L397.87,152.57 L397.9,153 L397.93,153.35 L397.99,154.13 L398.06,154.91 L398.13,155.69 L398.21,156.47 L398.28,157.25 L398.36,158.03 L398.43,158.81 L398.5,159.59 L398.56,160.37 L398.6,161 L398.61,161.15 L398.66,161.93 L398.71,162.71 L398.77,163.5 L398.81,164.28 L398.85,165.06 L398.88,165.84 L398.9,166.62 L398.9,167 L398.9,167.41 L398.89,168.19 L398.87,168.97 L398.85,169.76 L398.82,170.54 L398.78,171.32 L398.75,172.1 L398.71,172.88 L398.7,173 L398.66,173.66 L398.59,174.44 L398.51,175.22 L398.42,176 L398.32,176.77 L398.21,177.55 L398.09,178.33 L397.98,179.1 L397.86,179.88 L397.75,180.65 L397.7,181 L397.64,181.43 L397.53,182.2 L397.41,182.98 L397.28,183.75 L397.16,184.52 L397.04,185.3 L396.91,186.07 L396.79,186.84 L396.68,187.62 L396.58,188.39 L396.5,189 L396.48,189.17 L396.39,189.95 L396.29,190.72 L396.2,191.5 L396.12,192.28 L396.04,193.06 L395.96,193.84 L395.89,194.62 L395.84,195.4 L395.8,196 L395.79,196.18 L395.75,196.96 L395.7,197.74 L395.66,198.53 L395.63,199.31 L395.61,200.09 L395.6,200.87 L395.6,201 L395.61,201.65 L395.66,202.43 L395.73,203.21 L395.82,203.99 L395.92,204.77 L396.02,205.55 L396.12,206.33 L396.2,207 L396.21,207.11 L396.3,207.88 L396.4,208.66 L396.5,209.44 L396.6,210.21 L396.69,210.99 L396.78,211.77 L396.8,212 L396.86,212.62 L396.95,213.64 L397.03,214.61 L397.08,215.3 L397.1,215.5 L397.09,215.5 L396.73,215.5 L395.98,215.5 L394.96,215.5 L393.8,215.5 L393.8,215.5 L392.64,215.5 L391.62,215.5 L390.87,215.5 L390.51,215.5 L390.5,215.5 L390.52,215.3 L390.57,214.61 L390.65,213.64 L390.74,212.62 L390.8,212 L390.82,211.77 L390.91,210.99 L391,210.21 L391.1,209.44 L391.2,208.66 L391.3,207.88 L391.39,207.11 L391.4,207 L391.48,206.33 L391.58,205.55 L391.68,204.77 L391.78,203.99 L391.87,203.21 L391.94,202.43 L391.99,201.65 L392,201 L392,200.87 L391.99,200.09 L391.97,199.31 L391.94,198.53 L391.9,197.74 L391.85,196.96 L391.81,196.18 L391.8,196 L391.76,195.4 L391.71,194.62 L391.64,193.84 L391.56,193.06 L391.48,192.28 L391.4,191.5 L391.31,190.72 L391.21,189.95 L391.12,189.17 L391.1,189 L391.02,188.39 L390.92,187.62 L390.81,186.84 L390.69,186.07 L390.56,185.3 L390.44,184.52 L390.32,183.75 L390.19,182.98 L390.07,182.2 L389.96,181.43 L389.9,181 L389.85,180.65 L389.74,179.88 L389.62,179.1 L389.51,178.33 L389.39,177.55 L389.28,176.77 L389.18,176 L389.09,175.22 L389.01,174.44 L388.94,173.66 L388.9,173 L388.89,172.88 L388.85,172.1 L388.82,171.32 L388.78,170.54 L388.75,169.76 L388.73,168.97 L388.71,168.19 L388.7,167.41 L388.7,167 L388.7,166.62 L388.72,165.84 L388.75,165.06 L388.79,164.28 L388.83,163.5 L388.89,162.71 L388.94,161.93 L388.99,161.15 L389,161 L389.04,160.37 L389.1,159.59 L389.17,158.81 L389.24,158.03 L389.32,157.25 L389.39,156.47 L389.47,155.69 L389.54,154.91 L389.61,154.13 L389.67,153.35 L389.7,153 L389.73,152.57 L389.79,151.79 L389.85,151.01 L389.91,150.23 L389.97,149.45 L390.02,148.67 L390.08,147.89 L390.12,147.1 L390.16,146.32 L390.19,145.54 L390.2,145 L390.2,144.75 L390.22,143.86 L390.23,142.87 L390.23,141.83 L390.24,140.8 L390.24,139.81 L390.25,138.93 L390.26,138.19 L390.27,137.64 L390.29,137.34 L390.3,137.3 L390.37,137.3 L390.87,137.3 L391.71,137.3 L392.74,137.3 L393.8,137.3Z" fill="#5A8CE0" stroke="#0a0a0a" stroke-width="0.75" stroke-linejoin="round"/>
<line x1="393.8" y1="137.3" x2="393.8" y2="215.5" stroke="#050505" stroke-width="0.85"/>
<rect x="391.9" y="155.2" width="3.8" height="31.1" fill="#5A8CE0" stroke="#050505" stroke-width="0.85"/>
<line x1="391.9" y1="170" x2="395.7" y2="170" stroke="#050505" stroke-width="1.65"/>
<path d="M427.9,129.1 L428.93,129.1 L429.94,129.1 L430.73,129.1 L431.09,129.1 L431.1,129.1 L431.12,129.2 L431.13,129.55 L431.14,130.09 L431.15,130.81 L431.15,131.66 L431.16,132.6 L431.16,133.61 L431.17,134.65 L431.17,135.67 L431.18,136.65 L431.19,137.55 L431.2,138 L431.21,138.35 L431.23,139.13 L431.27,139.9 L431.31,140.68 L431.36,141.46 L431.42,142.23 L431.48,143.01 L431.55,143.79 L431.61,144.56 L431.67,145.34 L431.73,146.12 L431.79,146.89 L431.8,147 L431.85,147.67 L431.91,148.44 L431.98,149.22 L432.05,149.99 L432.12,150.77 L432.19,151.55 L432.25,152.32 L432.31,153.1 L432.35,153.87 L432.39,154.65 L432.4,155 L432.41,155.43 L432.44,156.21 L432.46,156.98 L432.47,157.76 L432.49,158.54 L432.5,159.32 L432.5,160 L432.5,160.1 L432.49,160.88 L432.48,161.65 L432.45,162.43 L432.42,163.21 L432.38,163.99 L432.33,164.76 L432.29,165.54 L432.24,166.32 L432.2,167 L432.19,167.09 L432.14,167.87 L432.08,168.65 L432.02,169.42 L431.94,170.19 L431.86,170.97 L431.78,171.74 L431.69,172.52 L431.61,173.29 L431.52,174.06 L431.43,174.84 L431.35,175.61 L431.26,176.39 L431.2,177 L431.18,177.16 L431.11,177.93 L431.02,178.71 L430.94,179.48 L430.86,180.26 L430.78,181.03 L430.7,181.81 L430.62,182.58 L430.54,183.35 L430.46,184.13 L430.39,184.9 L430.31,185.68 L430.25,186.45 L430.2,187 L430.18,187.23 L430.12,188 L430.05,188.78 L429.98,189.55 L429.92,190.33 L429.86,191.11 L429.8,191.88 L429.76,192.66 L429.72,193.44 L429.7,194 L429.69,194.21 L429.67,194.99 L429.65,195.77 L429.63,196.55 L429.61,197.33 L429.6,198.1 L429.6,198.88 L429.6,199 L429.61,199.66 L429.63,200.44 L429.66,201.21 L429.71,201.99 L429.76,202.77 L429.82,203.55 L429.88,204.32 L429.94,205.1 L429.99,205.88 L430,206 L430.05,206.65 L430.11,207.43 L430.18,208.2 L430.25,208.98 L430.32,209.75 L430.39,210.53 L430.45,211.3 L430.5,212 L430.51,212.08 L430.56,213.01 L430.62,214.04 L430.67,214.93 L430.7,215.45 L430.7,215.5 L430.59,215.5 L429.98,215.5 L429.02,215.5 L427.9,215.5 L427.9,215.5 L426.78,215.5 L425.82,215.5 L425.21,215.5 L425.1,215.5 L425.1,215.45 L425.13,214.93 L425.18,214.04 L425.24,213.01 L425.29,212.08 L425.3,212 L425.35,211.3 L425.41,210.53 L425.48,209.75 L425.55,208.98 L425.62,208.2 L425.69,207.43 L425.75,206.65 L425.8,206 L425.81,205.88 L425.86,205.1 L425.92,204.32 L425.98,203.55 L426.04,202.77 L426.09,201.99 L426.14,201.21 L426.17,200.44 L426.19,199.66 L426.2,199 L426.2,198.88 L426.2,198.1 L426.19,197.33 L426.17,196.55 L426.15,195.77 L426.13,194.99 L426.11,194.21 L426.1,194 L426.08,193.44 L426.04,192.66 L426,191.88 L425.94,191.11 L425.88,190.33 L425.82,189.55 L425.75,188.78 L425.68,188 L425.62,187.23 L425.6,187 L425.55,186.45 L425.49,185.68 L425.41,184.9 L425.34,184.13 L425.26,183.35 L425.18,182.58 L425.1,181.81 L425.02,181.03 L424.94,180.26 L424.86,179.48 L424.78,178.71 L424.69,177.93 L424.62,177.16 L424.6,177 L424.54,176.39 L424.45,175.61 L424.37,174.84 L424.28,174.06 L424.19,173.29 L424.11,172.52 L424.02,171.74 L423.94,170.97 L423.86,170.19 L423.78,169.42 L423.72,168.65 L423.66,167.87 L423.61,167.09 L423.6,167 L423.56,166.32 L423.51,165.54 L423.47,164.76 L423.42,163.99 L423.38,163.21 L423.35,162.43 L423.32,161.65 L423.31,160.88 L423.3,160.1 L423.3,160 L423.3,159.32 L423.31,158.54 L423.33,157.76 L423.34,156.98 L423.36,156.21 L423.39,155.43 L423.4,155 L423.41,154.65 L423.45,153.87 L423.49,153.1 L423.55,152.32 L423.61,151.55 L423.68,150.77 L423.75,149.99 L423.82,149.22 L423.89,148.44 L423.95,147.67 L424,147 L424.01,146.89 L424.07,146.12 L424.13,145.34 L424.19,144.56 L424.25,143.79 L424.32,143.01 L424.38,142.23 L424.44,141.46 L424.49,140.68 L424.53,139.9 L424.57,139.13 L424.59,138.35 L424.6,138 L424.61,137.55 L424.62,136.65 L424.63,135.67 L424.63,134.65 L424.64,133.61 L424.64,132.6 L424.65,131.66 L424.65,130.81 L424.66,130.09 L424.67,129.55 L424.68,129.2 L424.7,129.1 L424.71,129.1 L425.07,129.1 L425.86,129.1 L426.87,129.1 L427.9,129.1Z" fill="#5A8CE0" stroke="#0a0a0a" stroke-width="0.75" stroke-linejoin="round"/>
<line x1="427.9" y1="129.1" x2="427.9" y2="215.5" stroke="#050505" stroke-width="0.85"/>
<rect x="426" y="147.5" width="3.8" height="35.7" fill="#5A8CE0" stroke="#050505" stroke-width="0.85"/>
<line x1="426" y1="164.2" x2="429.8" y2="164.2" stroke="#050505" stroke-width="1.65"/>
<path d="M462,129.1 L463.03,129.1 L464.04,129.1 L464.82,129.1 L465.19,129.1 L465.2,129.1 L465.22,129.2 L465.23,129.54 L465.24,130.08 L465.25,130.8 L465.25,131.64 L465.26,132.59 L465.26,133.59 L465.27,134.63 L465.27,135.65 L465.28,136.63 L465.29,137.53 L465.3,138 L465.31,138.33 L465.33,139.11 L465.36,139.88 L465.4,140.66 L465.44,141.43 L465.49,142.21 L465.54,142.99 L465.6,143.76 L465.65,144.54 L465.7,145.31 L465.75,146.09 L465.79,146.86 L465.8,147 L465.83,147.64 L465.88,148.42 L465.92,149.19 L465.97,149.97 L466.01,150.74 L466.05,151.52 L466.09,152.29 L466.13,153.07 L466.16,153.85 L466.19,154.62 L466.2,155 L466.21,155.4 L466.23,156.18 L466.25,156.95 L466.27,157.73 L466.29,158.51 L466.3,159.28 L466.3,160 L466.3,160.06 L466.29,160.84 L466.28,161.61 L466.25,162.39 L466.22,163.17 L466.18,163.94 L466.13,164.72 L466.09,165.5 L466.04,166.27 L466,167 L466,167.05 L465.95,167.82 L465.89,168.6 L465.83,169.37 L465.77,170.14 L465.7,170.92 L465.62,171.69 L465.55,172.47 L465.47,173.24 L465.39,174.01 L465.31,174.79 L465.24,175.56 L465.16,176.33 L465.1,177 L465.09,177.11 L465.02,177.88 L464.95,178.65 L464.87,179.43 L464.8,180.2 L464.72,180.97 L464.65,181.75 L464.57,182.52 L464.5,183.3 L464.43,184.07 L464.37,184.84 L464.3,185.62 L464.24,186.39 L464.2,187 L464.19,187.17 L464.13,187.94 L464.08,188.72 L464.03,189.49 L463.98,190.27 L463.93,191.04 L463.89,191.82 L463.85,192.6 L463.82,193.37 L463.8,194 L463.8,194.15 L463.77,194.92 L463.75,195.7 L463.73,196.48 L463.72,197.26 L463.71,198.03 L463.7,198.81 L463.7,199 L463.7,199.59 L463.72,200.36 L463.74,201.14 L463.77,201.92 L463.81,202.69 L463.85,203.47 L463.9,204.24 L463.94,205.02 L463.99,205.8 L464,206 L464.04,206.57 L464.09,207.35 L464.16,208.12 L464.23,208.89 L464.31,209.67 L464.38,210.44 L464.44,211.22 L464.5,211.99 L464.5,212 L464.56,212.9 L464.61,213.92 L464.66,214.84 L464.7,215.41 L464.7,215.5 L464.63,215.5 L464.06,215.5 L463.12,215.5 L462,215.5 L462,215.5 L460.88,215.5 L459.94,215.5 L459.37,215.5 L459.3,215.5 L459.3,215.41 L459.34,214.84 L459.39,213.92 L459.44,212.9 L459.5,212 L459.5,211.99 L459.56,211.22 L459.62,210.44 L459.69,209.67 L459.77,208.89 L459.84,208.12 L459.91,207.35 L459.96,206.57 L460,206 L460.01,205.8 L460.06,205.02 L460.1,204.24 L460.15,203.47 L460.19,202.69 L460.23,201.92 L460.26,201.14 L460.28,200.36 L460.3,199.59 L460.3,199 L460.3,198.81 L460.29,198.03 L460.28,197.26 L460.27,196.48 L460.25,195.7 L460.23,194.92 L460.2,194.15 L460.2,194 L460.18,193.37 L460.15,192.6 L460.11,191.82 L460.07,191.04 L460.02,190.27 L459.97,189.49 L459.92,188.72 L459.87,187.94 L459.81,187.17 L459.8,187 L459.76,186.39 L459.7,185.62 L459.63,184.84 L459.57,184.07 L459.5,183.3 L459.43,182.52 L459.35,181.75 L459.28,180.97 L459.2,180.2 L459.13,179.43 L459.05,178.65 L458.98,177.88 L458.91,177.11 L458.9,177 L458.84,176.33 L458.76,175.56 L458.69,174.79 L458.61,174.01 L458.53,173.24 L458.45,172.47 L458.38,171.69 L458.3,170.92 L458.23,170.14 L458.17,169.37 L458.11,168.6 L458.05,167.82 L458,167.05 L458,167 L457.96,166.27 L457.91,165.5 L457.87,164.72 L457.82,163.94 L457.78,163.17 L457.75,162.39 L457.72,161.61 L457.71,160.84 L457.7,160.06 L457.7,160 L457.7,159.28 L457.71,158.51 L457.73,157.73 L457.75,156.95 L457.77,156.18 L457.79,155.4 L457.8,155 L457.81,154.62 L457.84,153.85 L457.87,153.07 L457.91,152.29 L457.95,151.52 L457.99,150.74 L458.03,149.97 L458.08,149.19 L458.12,148.42 L458.17,147.64 L458.2,147 L458.21,146.86 L458.25,146.09 L458.3,145.31 L458.35,144.54 L458.4,143.76 L458.46,142.99 L458.51,142.21 L458.56,141.43 L458.6,140.66 L458.64,139.88 L458.67,139.11 L458.69,138.33 L458.7,138 L458.71,137.53 L458.72,136.63 L458.73,135.65 L458.73,134.63 L458.74,133.59 L458.74,132.59 L458.75,131.64 L458.75,130.8 L458.76,130.08 L458.77,129.54 L458.78,129.2 L458.8,129.1 L458.81,129.1 L459.18,129.1 L459.96,129.1 L460.97,129.1 L462,129.1Z" fill="#5A8CE0" stroke="#0a0a0a" stroke-width="0.75" stroke-linejoin="round"/>
<line x1="462" y1="129.1" x2="462" y2="215.5" stroke="#050505" stroke-width="0.85"/>
<rect x="460.1" y="146.1" width="3.8" height="36.1" fill="#5A8CE0" stroke="#050505" stroke-width="0.85"/>
<line x1="460.1" y1="162" x2="463.9" y2="162" stroke="#050505" stroke-width="1.65"/>
<text x="223.6" y="234.2" font-size="7.5" text-anchor="middle" font-weight="normal" fill="#000" stroke="#000" stroke-width="0.16">0.0017</text>
<text x="257.7" y="234.2" font-size="7.5" text-anchor="middle" font-weight="normal" fill="#000" stroke="#000" stroke-width="0.16">0.0032</text>
<text x="291.7" y="234.2" font-size="7.5" text-anchor="middle" font-weight="normal" fill="#000" stroke="#000" stroke-width="0.16">0.0045</text>
<text x="325.8" y="234.2" font-size="7.5" text-anchor="middle" font-weight="normal" fill="#000" stroke="#000" stroke-width="0.16">0.0052</text>
<text x="359.8" y="234.2" font-size="7.5" text-anchor="middle" font-weight="normal" fill="#000" stroke="#000" stroke-width="0.16">0.0062</text>
<text x="393.8" y="234.2" font-size="7.5" text-anchor="middle" font-weight="normal" fill="#000" stroke="#000" stroke-width="0.16">0.0068</text>
<text x="427.9" y="234.2" font-size="7.5" text-anchor="middle" font-weight="normal" fill="#000" stroke="#000" stroke-width="0.16">0.0077</text>
<text x="462" y="234.2" font-size="7.5" text-anchor="middle" font-weight="normal" fill="#000" stroke="#000" stroke-width="0.16">0.008</text>
<text x="223.6" y="249.5" font-size="8.2" text-anchor="middle" font-weight="normal" fill="#000" stroke="#000" stroke-width="0.16">1</text>
<text x="257.7" y="249.5" font-size="8.2" text-anchor="middle" font-weight="normal" fill="#000" stroke="#000" stroke-width="0.16">2</text>
<text x="291.7" y="249.5" font-size="8.2" text-anchor="middle" font-weight="normal" fill="#000" stroke="#000" stroke-width="0.16">3</text>
<text x="325.8" y="249.5" font-size="8.2" text-anchor="middle" font-weight="normal" fill="#000" stroke="#000" stroke-width="0.16">4</text>
<text x="359.8" y="249.5" font-size="8.2" text-anchor="middle" font-weight="normal" fill="#000" stroke="#000" stroke-width="0.16">5</text>
<text x="393.8" y="249.5" font-size="8.2" text-anchor="middle" font-weight="normal" fill="#000" stroke="#000" stroke-width="0.16">6</text>
<text x="427.9" y="249.5" font-size="8.2" text-anchor="middle" font-weight="normal" fill="#000" stroke="#000" stroke-width="0.16">7</text>
<text x="462" y="249.5" font-size="8.2" text-anchor="middle" font-weight="normal" fill="#000" stroke="#000" stroke-width="0.16">8</text>
<text x="342.7" y="260.5" font-size="9.7" text-anchor="middle" font-weight="normal" fill="#000" stroke="#000" stroke-width="0.16">Number of scBCR−seq replicates merged</text>
<path d="M533.4,71.6 V238.4 H686" fill="none" stroke="#1a1a1a" stroke-width="1.0"/>
<line x1="530.7" y1="95.7" x2="533.4" y2="95.7" stroke="#1a1a1a" stroke-width="1.0"/>
<line x1="530.7" y1="128" x2="533.4" y2="128" stroke="#1a1a1a" stroke-width="1.0"/>
<line x1="530.7" y1="160" x2="533.4" y2="160" stroke="#1a1a1a" stroke-width="1.0"/>
<line x1="530.7" y1="192" x2="533.4" y2="192" stroke="#1a1a1a" stroke-width="1.0"/>
<line x1="530.7" y1="217.9" x2="533.4" y2="217.9" stroke="#1a1a1a" stroke-width="1.0"/>
<line x1="530.7" y1="224.7" x2="533.4" y2="224.7" stroke="#1a1a1a" stroke-width="1.0"/>
<line x1="574.6" y1="238.4" x2="574.6" y2="241.1" stroke="#1a1a1a" stroke-width="1.0"/>
<line x1="643.4" y1="238.4" x2="643.4" y2="241.1" stroke="#1a1a1a" stroke-width="1.0"/>
<text x="528.7" y="98.6" font-size="8.2" text-anchor="end" font-weight="normal" fill="#000" stroke="#000" stroke-width="0.16">1e−01</text>
<text x="528.7" y="130.9" font-size="8.2" text-anchor="end" font-weight="normal" fill="#000" stroke="#000" stroke-width="0.16">1e−02</text>
<text x="528.7" y="162.9" font-size="8.2" text-anchor="end" font-weight="normal" fill="#000" stroke="#000" stroke-width="0.16">1e−03</text>
<text x="528.7" y="194.9" font-size="8.2" text-anchor="end" font-weight="normal" fill="#000" stroke="#000" stroke-width="0.16">1e−04</text>
<text x="528.7" y="220.8" font-size="8.2" text-anchor="end" font-weight="normal" fill="#000" stroke="#000" stroke-width="0.16">1e−05</text>
<text x="528.7" y="227.6" font-size="8.2" text-anchor="end" font-weight="normal" fill="#000" stroke="#000" stroke-width="0.16">0e+00</text>
<text x="501" y="155" font-size="9.7" text-anchor="middle" font-weight="normal" fill="#000" stroke="#000" stroke-width="0.16" transform="rotate(-90 501 155)">CDRH3 Jaccard overlap</text>
<path d="M574.6,85 V79.4 H643.4 V85" fill="none" stroke="#111" stroke-width="0.65"/>
<text x="609" y="77.5" font-size="4.6" text-anchor="middle" font-weight="normal" fill="#000" stroke="#000" stroke-width="0.16">2.13e−70</text>
<path d="M574.5,161 L574.8,161 L574.83,161.01 L574.88,161.09 L574.93,161.24 L574.97,161.46 L575.01,161.73 L575.05,162.07 L575.09,162.47 L575.12,162.93 L575.15,163.43 L575.18,163.99 L575.21,164.6 L575.23,165.25 L575.25,165.95 L575.27,166.68 L575.29,167.46 L575.31,168.26 L575.32,169.11 L575.34,169.98 L575.35,170.88 L575.36,171.8 L575.38,172.75 L575.39,173.72 L575.39,174.7 L575.4,175.7 L575.41,176.71 L575.42,177.74 L575.43,178.76 L575.43,179.8 L575.44,180.83 L575.45,181.86 L575.46,182.9 L575.46,183.92 L575.47,184.94 L575.48,185.94 L575.49,186.93 L575.5,187.91 L575.51,188.87 L575.52,189.8 L575.54,190.71 L575.55,191.6 L575.57,192.46 L575.58,193.28 L575.6,194 L575.6,194.07 L575.62,194.85 L575.64,195.62 L575.65,196.4 L575.67,197.18 L575.69,197.95 L575.71,198.73 L575.73,199.5 L575.75,200 L575.76,200.28 L575.8,201.05 L575.85,201.83 L575.91,202.6 L575.97,203.38 L576.03,204.15 L576.09,204.93 L576.1,205 L576.16,205.7 L576.22,206.47 L576.29,207.25 L576.36,208.02 L576.42,208.79 L576.47,209.57 L576.5,210 L576.52,210.34 L576.55,211.12 L576.58,211.89 L576.61,212.67 L576.63,213.45 L576.66,214.22 L576.7,215 L576.7,215 L576.74,215.78 L576.77,216.57 L576.83,217.34 L576.9,218 L576.91,218.09 L577.2,218.85 L577.5,219.3 L577.64,219.43 L578.33,219.83 L578.7,220 L579.05,220.14 L579.78,220.4 L580.52,220.63 L581.28,220.84 L581.5,220.9 L582.03,221.04 L582.78,221.23 L583.54,221.41 L584.3,221.57 L585,221.7 L585.06,221.71 L585.82,221.83 L586.59,221.94 L587.36,222.04 L588.13,222.13 L588.91,222.23 L589.5,222.3 L589.68,222.32 L590.45,222.42 L591.22,222.51 L591.99,222.61 L592.76,222.7 L593.53,222.79 L594.3,222.88 L594.5,222.9 L595.07,222.96 L595.84,223.04 L596.62,223.12 L597.39,223.19 L598.16,223.27 L598.94,223.34 L599.71,223.42 L600.48,223.5 L600.5,223.5 L601.27,223.57 L602.09,223.63 L602.91,223.68 L603.72,223.75 L604.49,223.84 L605.2,223.97 L605.7,224.1 L605.86,224.2 L606,224.4 L605.55,224.7 L605.5,224.7 L604.85,224.7 L604.14,224.7 L603.44,224.7 L602.73,224.7 L602.02,224.7 L601.31,224.7 L600.59,224.7 L599.87,224.7 L599.15,224.7 L598.42,224.7 L597.69,224.7 L596.96,224.7 L596.22,224.7 L595.48,224.7 L594.74,224.7 L593.99,224.7 L593.24,224.7 L592.48,224.7 L591.72,224.7 L590.95,224.7 L590.18,224.7 L589.41,224.7 L588.63,224.7 L587.84,224.7 L587.05,224.7 L586.25,224.7 L585.45,224.7 L584.65,224.7 L583.83,224.7 L583.02,224.7 L582.19,224.7 L581.36,224.7 L580.53,224.7 L579.69,224.7 L578.84,224.7 L577.98,224.7 L577.12,224.7 L576.26,224.7 L575.38,224.7 L574.5,224.7 L574.5,224.7 L573.62,224.7 L572.74,224.7 L571.88,224.7 L571.02,224.7 L570.16,224.7 L569.31,224.7 L568.47,224.7 L567.64,224.7 L566.81,224.7 L565.98,224.7 L565.17,224.7 L564.35,224.7 L563.55,224.7 L562.75,224.7 L561.95,224.7 L561.16,224.7 L560.37,224.7 L559.59,224.7 L558.82,224.7 L558.05,224.7 L557.28,224.7 L556.52,224.7 L555.76,224.7 L555.01,224.7 L554.26,224.7 L553.52,224.7 L552.78,224.7 L552.04,224.7 L551.31,224.7 L550.58,224.7 L549.85,224.7 L549.13,224.7 L548.41,224.7 L547.69,224.7 L546.98,224.7 L546.27,224.7 L545.56,224.7 L544.86,224.7 L544.15,224.7 L543.5,224.7 L543.45,224.7 L543,224.4 L543.14,224.2 L543.3,224.1 L543.8,223.97 L544.51,223.84 L545.28,223.75 L546.09,223.68 L546.91,223.63 L547.73,223.57 L548.5,223.5 L548.52,223.5 L549.29,223.42 L550.06,223.34 L550.84,223.27 L551.61,223.19 L552.38,223.12 L553.16,223.04 L553.93,222.96 L554.5,222.9 L554.7,222.88 L555.47,222.79 L556.24,222.7 L557.01,222.61 L557.78,222.51 L558.55,222.42 L559.32,222.32 L559.5,222.3 L560.09,222.23 L560.87,222.13 L561.64,222.04 L562.41,221.94 L563.18,221.83 L563.94,221.71 L564,221.7 L564.7,221.57 L565.46,221.41 L566.22,221.23 L566.97,221.04 L567.5,220.9 L567.72,220.84 L568.48,220.63 L569.22,220.4 L569.95,220.14 L570.3,220 L570.67,219.83 L571.36,219.43 L571.5,219.3 L571.8,218.85 L572.09,218.09 L572.1,218 L572.17,217.34 L572.23,216.57 L572.26,215.78 L572.3,215 L572.3,215 L572.34,214.22 L572.37,213.45 L572.39,212.67 L572.42,211.89 L572.45,211.12 L572.48,210.34 L572.5,210 L572.53,209.57 L572.58,208.79 L572.64,208.02 L572.71,207.25 L572.78,206.47 L572.84,205.7 L572.9,205 L572.91,204.93 L572.97,204.15 L573.03,203.38 L573.09,202.6 L573.15,201.83 L573.2,201.05 L573.24,200.28 L573.25,200 L573.27,199.5 L573.29,198.73 L573.31,197.95 L573.33,197.18 L573.35,196.4 L573.36,195.62 L573.38,194.85 L573.4,194.07 L573.4,194 L573.42,193.28 L573.43,192.46 L573.45,191.6 L573.46,190.71 L573.48,189.8 L573.49,188.87 L573.5,187.91 L573.51,186.93 L573.52,185.94 L573.53,184.94 L573.54,183.92 L573.54,182.9 L573.55,181.86 L573.56,180.83 L573.57,179.8 L573.57,178.76 L573.58,177.74 L573.59,176.71 L573.6,175.7 L573.61,174.7 L573.61,173.72 L573.62,172.75 L573.64,171.8 L573.65,170.88 L573.66,169.98 L573.68,169.11 L573.69,168.26 L573.71,167.46 L573.73,166.68 L573.75,165.95 L573.77,165.25 L573.79,164.6 L573.82,163.99 L573.85,163.43 L573.88,162.93 L573.91,162.47 L573.95,162.07 L573.99,161.73 L574.03,161.46 L574.07,161.24 L574.12,161.09 L574.17,161.01 L574.2,161 L574.5,161Z" fill="#88C790" stroke="#0a0a0a" stroke-width="0.7" stroke-linejoin="round"/>
<line x1="574.5" y1="194" x2="574.5" y2="224.7" stroke="#050505" stroke-width="0.85"/>
<rect x="573.6" y="211.7" width="1.8" height="13" fill="#88C790" stroke="#050505" stroke-width="0.85"/>
<line x1="573.6" y1="224.5" x2="575.4" y2="224.5" stroke="#050505" stroke-width="1.65"/>
<line x1="574.5" y1="162.5" x2="574.5" y2="193" stroke="#000" stroke-width="3.4" stroke-linecap="round"/>
<path d="M643.5,91.2 L643.65,91.2 L643.66,91.26 L643.66,91.47 L643.67,91.83 L643.67,92.33 L643.68,92.94 L643.68,93.66 L643.68,94.46 L643.68,95.34 L643.68,96.28 L643.69,97.27 L643.69,98.28 L643.69,99.31 L643.69,100.34 L643.69,101.36 L643.69,102.35 L643.69,103.29 L643.7,104.18 L643.7,105 L643.7,105 L643.7,105.77 L643.71,106.55 L643.71,107.32 L643.72,108.1 L643.72,108.87 L643.73,109.65 L643.73,110.42 L643.74,111.2 L643.74,111.98 L643.75,112.75 L643.75,113.53 L643.76,114.3 L643.77,115.08 L643.77,115.85 L643.78,116.63 L643.79,117.4 L643.8,118.17 L643.81,118.95 L643.82,119.72 L643.83,120.5 L643.84,121.27 L643.85,122 L643.85,122.05 L643.87,122.82 L643.89,123.6 L643.91,124.37 L643.94,125.15 L643.98,125.92 L644.02,126.69 L644.06,127.47 L644.1,128.24 L644.14,129.02 L644.18,129.79 L644.23,130.56 L644.27,131.34 L644.3,132 L644.31,132.11 L644.34,132.89 L644.38,133.66 L644.42,134.44 L644.46,135.21 L644.5,135.98 L644.54,136.76 L644.58,137.53 L644.62,138.31 L644.67,139.08 L644.72,139.85 L644.77,140.63 L644.8,141 L644.83,141.4 L644.9,142.17 L644.98,142.94 L645.07,143.71 L645.15,144.48 L645.24,145.25 L645.32,146.02 L645.38,146.79 L645.4,147 L645.44,147.57 L645.51,148.34 L645.57,149.11 L645.62,149.89 L645.67,150.66 L645.69,151.44 L645.7,152 L645.7,152.21 L645.69,152.98 L645.68,153.76 L645.65,154.53 L645.63,155.31 L645.6,156 L645.6,156.08 L645.55,156.86 L645.48,157.63 L645.41,158.4 L645.35,159.17 L645.3,159.95 L645.3,160 L645.28,160.72 L645.25,161.5 L645.23,162.27 L645.21,163.04 L645.19,163.82 L645.18,164.59 L645.16,165.37 L645.15,166.14 L645.14,166.92 L645.13,167.69 L645.12,168.47 L645.11,169.24 L645.1,170 L645.1,170.02 L645.09,170.79 L645.09,171.57 L645.08,172.34 L645.07,173.12 L645.07,173.89 L645.06,174.67 L645.06,175.44 L645.06,176.22 L645.05,176.99 L645.05,177.77 L645.05,178.54 L645.04,179.32 L645.04,180.09 L645.03,180.87 L645.03,181.64 L645.03,182.42 L645.02,183.19 L645.02,183.97 L645.01,184.74 L645,185.52 L645,186 L645,186.29 L644.99,187.07 L644.98,187.84 L644.97,188.62 L644.96,189.39 L644.95,190.17 L644.94,190.94 L644.93,191.72 L644.92,192.49 L644.91,193.27 L644.9,194.04 L644.89,194.82 L644.88,195.59 L644.86,196.37 L644.85,197.14 L644.84,197.92 L644.82,198.69 L644.81,199.47 L644.8,200 L644.8,200.24 L644.78,201.02 L644.76,201.79 L644.74,202.57 L644.71,203.34 L644.69,204.12 L644.67,204.89 L644.65,205.67 L644.63,206.44 L644.62,207.22 L644.61,207.99 L644.6,208.76 L644.6,209 L644.6,209.54 L644.62,210.31 L644.65,211.09 L644.69,211.86 L644.74,212.64 L644.79,213.41 L644.84,214.19 L644.9,214.96 L644.9,215 L644.96,215.73 L645.04,216.5 L645.13,217.27 L645.23,218.04 L645.34,218.81 L645.44,219.58 L645.5,220 L645.55,220.37 L645.69,221.33 L645.85,222.34 L645.99,223.22 L646.08,223.78 L646.1,223.9 L646.06,223.9 L645.54,223.9 L644.61,223.9 L643.5,223.9 L643.5,223.9 L642.39,223.9 L641.46,223.9 L640.94,223.9 L640.9,223.9 L640.92,223.78 L641.01,223.22 L641.15,222.34 L641.31,221.33 L641.45,220.37 L641.5,220 L641.56,219.58 L641.66,218.81 L641.77,218.04 L641.87,217.27 L641.96,216.5 L642.04,215.73 L642.1,215 L642.1,214.96 L642.16,214.19 L642.21,213.41 L642.26,212.64 L642.31,211.86 L642.35,211.09 L642.38,210.31 L642.4,209.54 L642.4,209 L642.4,208.76 L642.39,207.99 L642.38,207.22 L642.37,206.44 L642.35,205.67 L642.33,204.89 L642.31,204.12 L642.29,203.34 L642.26,202.57 L642.24,201.79 L642.22,201.02 L642.2,200.24 L642.2,200 L642.19,199.47 L642.18,198.69 L642.16,197.92 L642.15,197.14 L642.14,196.37 L642.12,195.59 L642.11,194.82 L642.1,194.04 L642.09,193.27 L642.08,192.49 L642.07,191.72 L642.06,190.94 L642.05,190.17 L642.04,189.39 L642.03,188.62 L642.02,187.84 L642.01,187.07 L642,186.29 L642,186 L642,185.52 L641.99,184.74 L641.98,183.97 L641.98,183.19 L641.97,182.42 L641.97,181.64 L641.97,180.87 L641.96,180.09 L641.96,179.32 L641.95,178.54 L641.95,177.77 L641.95,176.99 L641.94,176.22 L641.94,175.44 L641.94,174.67 L641.93,173.89 L641.93,173.12 L641.92,172.34 L641.91,171.57 L641.91,170.79 L641.9,170.02 L641.9,170 L641.89,169.24 L641.88,168.47 L641.87,167.69 L641.86,166.92 L641.85,166.14 L641.84,165.37 L641.82,164.59 L641.81,163.82 L641.79,163.04 L641.77,162.27 L641.75,161.5 L641.72,160.72 L641.7,160 L641.7,159.95 L641.65,159.17 L641.59,158.4 L641.52,157.63 L641.45,156.86 L641.4,156.08 L641.4,156 L641.37,155.31 L641.35,154.53 L641.32,153.76 L641.31,152.98 L641.3,152.21 L641.3,152 L641.31,151.44 L641.33,150.66 L641.38,149.89 L641.43,149.11 L641.49,148.34 L641.56,147.57 L641.6,147 L641.62,146.79 L641.68,146.02 L641.76,145.25 L641.85,144.48 L641.93,143.71 L642.02,142.94 L642.1,142.17 L642.17,141.4 L642.2,141 L642.23,140.63 L642.28,139.85 L642.33,139.08 L642.38,138.31 L642.42,137.53 L642.46,136.76 L642.5,135.98 L642.54,135.21 L642.58,134.44 L642.62,133.66 L642.66,132.89 L642.69,132.11 L642.7,132 L642.73,131.34 L642.77,130.56 L642.82,129.79 L642.86,129.02 L642.9,128.24 L642.94,127.47 L642.98,126.69 L643.02,125.92 L643.06,125.15 L643.09,124.37 L643.11,123.6 L643.13,122.82 L643.15,122.05 L643.15,122 L643.16,121.27 L643.17,120.5 L643.18,119.72 L643.19,118.95 L643.2,118.17 L643.21,117.4 L643.22,116.63 L643.23,115.85 L643.23,115.08 L643.24,114.3 L643.25,113.53 L643.25,112.75 L643.26,111.98 L643.26,111.2 L643.27,110.42 L643.27,109.65 L643.28,108.87 L643.28,108.1 L643.29,107.32 L643.29,106.55 L643.3,105.77 L643.3,105 L643.3,105 L643.3,104.18 L643.31,103.29 L643.31,102.35 L643.31,101.36 L643.31,100.34 L643.31,99.31 L643.31,98.28 L643.31,97.27 L643.32,96.28 L643.32,95.34 L643.32,94.46 L643.32,93.66 L643.32,92.94 L643.33,92.33 L643.33,91.83 L643.34,91.47 L643.34,91.26 L643.35,91.2 L643.5,91.2Z" fill="#88C790" stroke="#0a0a0a" stroke-width="0.7" stroke-linejoin="round"/>
<line x1="643.5" y1="91.2" x2="643.5" y2="223.9" stroke="#050505" stroke-width="0.85"/>
<rect x="642.5" y="156.4" width="2" height="67.5" fill="#88C790" stroke="#050505" stroke-width="0.85"/>
<line x1="642.5" y1="182" x2="644.5" y2="182" stroke="#050505" stroke-width="1.65"/>
<text x="574.6" y="234.2" font-size="7.5" text-anchor="middle" font-weight="normal" fill="#000" stroke="#000" stroke-width="0.16">0</text>
<text x="643.4" y="234.2" font-size="7.5" text-anchor="middle" font-weight="normal" fill="#000" stroke="#000" stroke-width="0.16">2e−04</text>
<text x="574.6" y="249.5" font-size="8.3" text-anchor="middle" font-weight="normal" fill="#000" stroke="#000" stroke-width="0.16">Different donors</text>
<text x="643.4" y="249.5" font-size="8.3" text-anchor="middle" font-weight="normal" fill="#000" stroke="#000" stroke-width="0.16">Same donor</text>
<text x="609" y="260.5" font-size="9.7" text-anchor="middle" font-weight="normal" fill="#000" stroke="#000" stroke-width="0.16">Donor ID</text>
<path d="M39.75,334.9 V504 H494.3" fill="none" stroke="#1a1a1a" stroke-width="1.0"/>
<line x1="37.05" y1="343.2" x2="39.75" y2="343.2" stroke="#1a1a1a" stroke-width="1.0"/>
<line x1="37.05" y1="393.8" x2="39.75" y2="393.8" stroke="#1a1a1a" stroke-width="1.0"/>
<line x1="37.05" y1="444.3" x2="39.75" y2="444.3" stroke="#1a1a1a" stroke-width="1.0"/>
<line x1="37.05" y1="484.7" x2="39.75" y2="484.7" stroke="#1a1a1a" stroke-width="1.0"/>
<line x1="37.05" y1="495.3" x2="39.75" y2="495.3" stroke="#1a1a1a" stroke-width="1.0"/>
<line x1="66.3" y1="504" x2="66.3" y2="506.7" stroke="#1a1a1a" stroke-width="1.0"/>
<line x1="110.6" y1="504" x2="110.6" y2="506.7" stroke="#1a1a1a" stroke-width="1.0"/>
<line x1="154.9" y1="504" x2="154.9" y2="506.7" stroke="#1a1a1a" stroke-width="1.0"/>
<line x1="199.2" y1="504" x2="199.2" y2="506.7" stroke="#1a1a1a" stroke-width="1.0"/>
<line x1="243.5" y1="504" x2="243.5" y2="506.7" stroke="#1a1a1a" stroke-width="1.0"/>
<line x1="287.8" y1="504" x2="287.8" y2="506.7" stroke="#1a1a1a" stroke-width="1.0"/>
<line x1="332.1" y1="504" x2="332.1" y2="506.7" stroke="#1a1a1a" stroke-width="1.0"/>
<line x1="376.4" y1="504" x2="376.4" y2="506.7" stroke="#1a1a1a" stroke-width="1.0"/>
<line x1="420.7" y1="504" x2="420.7" y2="506.7" stroke="#1a1a1a" stroke-width="1.0"/>
<line x1="465" y1="504" x2="465" y2="506.7" stroke="#1a1a1a" stroke-width="1.0"/>
<text x="34.9" y="346.1" font-size="8.2" text-anchor="end" font-weight="normal" fill="#000" stroke="#000" stroke-width="0.16">1e−01</text>
<text x="34.9" y="396.7" font-size="8.2" text-anchor="end" font-weight="normal" fill="#000" stroke="#000" stroke-width="0.16">1e−02</text>
<text x="34.9" y="447.2" font-size="8.2" text-anchor="end" font-weight="normal" fill="#000" stroke="#000" stroke-width="0.16">1e−03</text>
<text x="34.9" y="487.6" font-size="8.2" text-anchor="end" font-weight="normal" fill="#000" stroke="#000" stroke-width="0.16">1e−04</text>
<text x="34.9" y="498.2" font-size="8.2" text-anchor="end" font-weight="normal" fill="#000" stroke="#000" stroke-width="0.16">0e+00</text>
<text x="6.7" y="420" font-size="9.83" text-anchor="middle" font-weight="normal" fill="#000" stroke="#000" stroke-width="0.16" transform="rotate(-90 6.7 420)">Same donor CDRH3 Jaccard overlap</text>
<text x="47.8" y="343" font-size="7.6" text-anchor="start" font-weight="normal" fill="#000" stroke="#000" stroke-width="0.16">Kruskal−Wallis, p = 5.1e−08</text>
<path d="M66.3,355.5 L75.6,355.5 L76.2,356 L76.9,358.5 L78.1,359.5 L80.3,360.5 L82.8,361.5 L85.1,362.3 L85.4,362.9 L84.9,363.5 L66.3,363.5 L66.3,363.5 L47.7,363.5 L47.2,362.9 L47.5,362.3 L49.8,361.5 L52.3,360.5 L54.5,359.5 L55.7,358.5 L56.4,356 L57,355.5 L66.3,355.5Z" fill="#E07A6D" stroke="#0a0a0a" stroke-width="0.75" stroke-linejoin="round"/>
<line x1="66.3" y1="356.1" x2="66.3" y2="363.3" stroke="#050505" stroke-width="0.85"/>
<rect x="64.1" y="358.5" width="4.4" height="4.8" fill="#E07A6D" stroke="#050505" stroke-width="0.85"/>
<line x1="64.1" y1="361.4" x2="68.5" y2="361.4" stroke="#050505" stroke-width="2.0"/>
<path d="M110.5,355.2 L111.4,355.2 L112.27,355.2 L113.11,355.2 L113.92,355.2 L114.69,355.2 L115.44,355.2 L116.15,355.2 L116.6,355.2 L116.85,355.23 L117.55,355.59 L118.21,356.2 L118.72,356.87 L118.8,357 L119.09,357.52 L119.43,358.26 L119.71,359.05 L119.87,359.86 L119.9,360.3 L119.89,360.64 L119.76,361.44 L119.56,362.23 L119.31,362.98 L119.3,363 L118.97,363.65 L118.48,364.29 L117.92,364.91 L117.4,365.5 L117.38,365.52 L116.86,366.12 L116.31,366.7 L115.77,367.28 L115.4,367.7 L115.24,367.89 L114.73,368.5 L114.23,369.12 L113.76,369.77 L113.6,370 L113.31,370.43 L112.9,371.13 L112.7,371.6 L112.62,371.85 L112.42,372.63 L112.27,373.42 L112.2,374 L112.18,374.21 L112.12,375.02 L112.1,375.6 L112.12,375.8 L112.4,376.54 L112.79,377.27 L112.8,377.3 L113.18,378.01 L113.48,378.74 L113.5,378.9 L113.28,379.46 L112.8,380 L112.73,380.07 L112.06,380.56 L111.3,380.8 L111.3,380.8 L110.5,380.8 L110.5,380.8 L109.7,380.8 L109.7,380.8 L108.94,380.56 L108.27,380.07 L108.2,380 L107.72,379.46 L107.5,378.9 L107.52,378.74 L107.82,378.01 L108.2,377.3 L108.21,377.27 L108.6,376.54 L108.88,375.8 L108.9,375.6 L108.88,375.02 L108.82,374.21 L108.8,374 L108.73,373.42 L108.58,372.63 L108.38,371.85 L108.3,371.6 L108.1,371.13 L107.69,370.43 L107.4,370 L107.24,369.77 L106.77,369.12 L106.27,368.5 L105.76,367.89 L105.6,367.7 L105.23,367.28 L104.69,366.7 L104.14,366.12 L103.62,365.52 L103.6,365.5 L103.08,364.91 L102.52,364.29 L102.03,363.65 L101.7,363 L101.69,362.98 L101.44,362.23 L101.24,361.44 L101.11,360.64 L101.1,360.3 L101.13,359.86 L101.29,359.05 L101.57,358.26 L101.91,357.52 L102.2,357 L102.28,356.87 L102.79,356.2 L103.45,355.59 L104.15,355.23 L104.4,355.2 L104.85,355.2 L105.56,355.2 L106.31,355.2 L107.08,355.2 L107.89,355.2 L108.73,355.2 L109.6,355.2 L110.5,355.2Z" fill="#E07A6D" stroke="#0a0a0a" stroke-width="0.75" stroke-linejoin="round"/>
<line x1="110.5" y1="356.2" x2="110.5" y2="367.5" stroke="#050505" stroke-width="0.85"/>
<rect x="108.4" y="357.7" width="4.2" height="8.8" fill="#E07A6D" stroke="#050505" stroke-width="0.85"/>
<line x1="108.4" y1="362.4" x2="112.6" y2="362.4" stroke="#050505" stroke-width="1.65"/>
<circle cx="110.5" cy="380.4" r="1.5" fill="#000"/>
<path d="M154.8,354.6 L155.93,354.6 L156.96,354.6 L157.82,354.6 L158.48,354.6 L158.86,354.6 L158.9,354.6 L159.01,354.81 L159.09,355.52 L159.16,356.51 L159.24,357.52 L159.3,358 L159.36,358.34 L159.54,359.1 L159.75,359.86 L159.98,360.62 L160.21,361.38 L160.42,362.14 L160.58,362.9 L160.6,363 L160.72,363.68 L160.85,364.46 L160.98,365.24 L161.1,366.02 L161.21,366.81 L161.3,367.59 L161.36,368.37 L161.4,369.15 L161.4,369.5 L161.39,369.93 L161.3,370.71 L161.16,371.48 L160.97,372.26 L160.76,373.03 L160.55,373.79 L160.5,374 L160.34,374.54 L160.08,375.29 L159.79,376.02 L159.51,376.76 L159.25,377.5 L159.1,378 L159.04,378.28 L158.89,379.26 L158.76,380.21 L158.57,380.76 L158.5,380.8 L158.24,380.8 L157.66,380.8 L156.86,380.8 L155.89,380.8 L154.8,380.8 L154.8,380.8 L153.71,380.8 L152.74,380.8 L151.94,380.8 L151.36,380.8 L151.1,380.8 L151.03,380.76 L150.84,380.21 L150.71,379.26 L150.56,378.28 L150.5,378 L150.35,377.5 L150.09,376.76 L149.81,376.02 L149.52,375.29 L149.26,374.54 L149.1,374 L149.05,373.79 L148.84,373.03 L148.63,372.26 L148.44,371.48 L148.3,370.71 L148.21,369.93 L148.2,369.5 L148.2,369.15 L148.24,368.37 L148.3,367.59 L148.39,366.81 L148.5,366.02 L148.62,365.24 L148.75,364.46 L148.88,363.68 L149,363 L149.02,362.9 L149.18,362.14 L149.39,361.38 L149.62,360.62 L149.85,359.86 L150.06,359.1 L150.24,358.34 L150.3,358 L150.36,357.52 L150.44,356.51 L150.51,355.52 L150.59,354.81 L150.7,354.6 L150.74,354.6 L151.12,354.6 L151.78,354.6 L152.64,354.6 L153.67,354.6 L154.8,354.6Z" fill="#E07A6D" stroke="#0a0a0a" stroke-width="0.75" stroke-linejoin="round"/>
<line x1="154.8" y1="354.6" x2="154.8" y2="380.8" stroke="#050505" stroke-width="0.85"/>
<rect x="152.7" y="360.9" width="4.2" height="11.3" fill="#E07A6D" stroke="#050505" stroke-width="0.85"/>
<line x1="152.7" y1="367.9" x2="156.9" y2="367.9" stroke="#050505" stroke-width="1.65"/>
<path d="M199.1,381.2 L200.1,381.2 L201.01,381.2 L201.76,381.2 L202.3,381.2 L202.3,381.2 L202.66,381.47 L202.94,382.16 L203.18,383.09 L203.41,384.08 L203.68,384.95 L203.7,385 L204.03,385.68 L204.43,386.38 L204.85,387.09 L205.24,387.79 L205.55,388.51 L205.7,389 L205.76,389.26 L205.94,390.03 L206.1,390.82 L206.24,391.62 L206.34,392.43 L206.39,393.23 L206.4,393.6 L206.39,394.02 L206.32,394.82 L206.21,395.61 L206.06,396.41 L205.89,397.19 L205.71,397.97 L205.7,398 L205.49,398.72 L205.19,399.47 L204.85,400.2 L204.52,400.94 L204.21,401.68 L204.1,402 L203.97,402.47 L203.78,403.44 L203.62,404.47 L203.45,405.41 L203.25,406.13 L202.98,406.48 L202.9,406.5 L202.57,406.5 L201.93,406.5 L201.11,406.5 L200.14,406.5 L199.1,406.5 L199.1,406.5 L198.06,406.5 L197.09,406.5 L196.27,406.5 L195.63,406.5 L195.3,406.5 L195.22,406.48 L194.95,406.13 L194.75,405.41 L194.58,404.47 L194.42,403.44 L194.23,402.47 L194.1,402 L193.99,401.68 L193.68,400.94 L193.35,400.2 L193.01,399.47 L192.71,398.72 L192.5,398 L192.49,397.97 L192.31,397.19 L192.14,396.41 L191.99,395.61 L191.88,394.82 L191.81,394.02 L191.8,393.6 L191.81,393.23 L191.86,392.43 L191.96,391.62 L192.1,390.82 L192.26,390.03 L192.44,389.26 L192.5,389 L192.65,388.51 L192.96,387.79 L193.35,387.09 L193.77,386.38 L194.17,385.68 L194.5,385 L194.52,384.95 L194.79,384.08 L195.02,383.09 L195.26,382.16 L195.54,381.47 L195.9,381.2 L195.9,381.2 L196.44,381.2 L197.19,381.2 L198.1,381.2 L199.1,381.2Z" fill="#E07A6D" stroke="#0a0a0a" stroke-width="0.75" stroke-linejoin="round"/>
<line x1="199.1" y1="381.2" x2="199.1" y2="406.5" stroke="#050505" stroke-width="0.85"/>
<rect x="196.8" y="389.9" width="4.6" height="8.7" fill="#E07A6D" stroke="#050505" stroke-width="0.85"/>
<line x1="196.8" y1="393.9" x2="201.4" y2="393.9" stroke="#050505" stroke-width="1.65"/>
<path d="M243.4,389.1 L250.6,389.1 L248.4,390.2 L247,391 L246,392 L245.7,392.6 L246.4,393.3 L249.9,394 L256.9,395.1 L263,396.5 L263.7,396.9 L262.6,397.3 L255.9,399 L249.5,401.2 L245.7,403.1 L243.7,404.3 L243.7,410.3 L245.8,411.5 L248.2,412.6 L250.4,413.7 L250.4,414 L243.4,414 L243.4,414 L236.4,414 L236.4,413.7 L238.6,412.6 L241,411.5 L243.1,410.3 L243.1,404.3 L241.1,403.1 L237.3,401.2 L230.9,399 L224.2,397.3 L223.1,396.9 L223.8,396.5 L229.9,395.1 L236.9,394 L240.4,393.3 L241.1,392.6 L240.8,392 L239.8,391 L238.4,390.2 L236.2,389.1 L243.4,389.1Z" fill="#E07A6D" stroke="#0a0a0a" stroke-width="0.75" stroke-linejoin="round"/>
<line x1="243.4" y1="400.3" x2="243.4" y2="410.3" stroke="#050505" stroke-width="0.85"/>
<rect x="240.9" y="396.1" width="5" height="4.2" fill="#E07A6D" stroke="#050505" stroke-width="0.85"/>
<line x1="240.9" y1="397.6" x2="245.9" y2="397.6" stroke="#050505" stroke-width="1.8"/>
<circle cx="243.4" cy="389.5" r="1.5" fill="#000"/>
<circle cx="243.4" cy="413.8" r="1.5" fill="#000"/>
<path d="M287.7,393.6 L288.66,393.6 L289.56,393.6 L290.38,393.6 L291.15,393.6 L291.85,393.6 L292.49,393.6 L292.5,393.6 L293.11,393.98 L293.61,394.75 L293.7,395 L293.83,395.46 L294.01,396.21 L294.16,397 L294.28,397.82 L294.36,398.65 L294.4,399.46 L294.4,399.8 L294.39,400.25 L294.31,401.04 L294.18,401.83 L294.01,402.62 L293.83,403.4 L293.7,404 L293.66,404.18 L293.46,404.95 L293.21,405.7 L292.95,406.46 L292.68,407.21 L292.42,407.97 L292.18,408.73 L292.1,409 L291.96,409.5 L291.74,410.26 L291.53,411.04 L291.33,411.81 L291.14,412.59 L290.99,413.37 L290.9,414 L290.88,414.16 L290.81,415.06 L290.75,416.08 L290.71,417.14 L290.67,418.15 L290.63,419.04 L290.57,419.72 L290.47,420.13 L290.4,420.2 L290.3,420.2 L289.69,420.2 L288.75,420.2 L287.7,420.2 L287.7,420.2 L286.65,420.2 L285.71,420.2 L285.1,420.2 L285,420.2 L284.93,420.13 L284.83,419.72 L284.77,419.04 L284.73,418.15 L284.69,417.14 L284.65,416.08 L284.59,415.06 L284.52,414.16 L284.5,414 L284.41,413.37 L284.26,412.59 L284.07,411.81 L283.87,411.04 L283.66,410.26 L283.44,409.5 L283.3,409 L283.22,408.73 L282.98,407.97 L282.72,407.21 L282.45,406.46 L282.19,405.7 L281.94,404.95 L281.74,404.18 L281.7,404 L281.57,403.4 L281.39,402.62 L281.22,401.83 L281.09,401.04 L281.01,400.25 L281,399.8 L281,399.46 L281.04,398.65 L281.12,397.82 L281.24,397 L281.39,396.21 L281.57,395.46 L281.7,395 L281.79,394.75 L282.29,393.98 L282.9,393.6 L282.91,393.6 L283.55,393.6 L284.25,393.6 L285.02,393.6 L285.84,393.6 L286.74,393.6 L287.7,393.6Z" fill="#E07A6D" stroke="#0a0a0a" stroke-width="0.75" stroke-linejoin="round"/>
<line x1="287.7" y1="393.6" x2="287.7" y2="420.2" stroke="#050505" stroke-width="0.85"/>
<rect x="285.1" y="396.8" width="5.2" height="11.2" fill="#E07A6D" stroke="#050505" stroke-width="0.85"/>
<line x1="285.1" y1="402.8" x2="290.3" y2="402.8" stroke="#050505" stroke-width="1.65"/>
<path d="M332.1,409.7 L334.6,409.7 L334.6,456.4 L332.1,456.4 L332.1,456.4 L329.6,456.4 L329.6,409.7 L332.1,409.7Z" fill="#E07A6D" stroke="#0a0a0a" stroke-width="0.75" stroke-linejoin="round"/>
<line x1="332.1" y1="409.7" x2="332.1" y2="456.4" stroke="#050505" stroke-width="0.85"/>
<rect x="329.6" y="416" width="5" height="27.3" fill="#E07A6D" stroke="#050505" stroke-width="0.85"/>
<line x1="329.6" y1="430.8" x2="334.6" y2="430.8" stroke="#050505" stroke-width="1.65"/>
<path d="M376.3,407.2 L378.7,407.2 L378.7,453.6 L376.3,453.6 L376.3,453.6 L373.9,453.6 L373.9,407.2 L376.3,407.2Z" fill="#E07A6D" stroke="#0a0a0a" stroke-width="0.75" stroke-linejoin="round"/>
<line x1="376.3" y1="407.2" x2="376.3" y2="453.6" stroke="#050505" stroke-width="0.85"/>
<rect x="373.9" y="417.5" width="4.8" height="29.6" fill="#E07A6D" stroke="#050505" stroke-width="0.85"/>
<line x1="373.9" y1="432.8" x2="378.7" y2="432.8" stroke="#050505" stroke-width="1.65"/>
<path d="M420.8,415.3 L421.79,415.3 L422.4,415.3 L422.4,415.3 L422.47,415.42 L422.53,415.79 L422.58,416.37 L422.61,417.12 L422.63,418 L422.65,418.97 L422.67,420 L422.69,421.04 L422.71,422.06 L422.75,423.02 L422.79,423.88 L422.8,424 L422.85,424.67 L422.93,425.45 L423.01,426.23 L423.11,427 L423.22,427.78 L423.33,428.56 L423.45,429.34 L423.56,430.11 L423.68,430.89 L423.7,431 L423.81,431.66 L423.95,432.43 L424.11,433.2 L424.27,433.97 L424.41,434.74 L424.54,435.52 L424.6,436 L424.64,436.29 L424.73,437.07 L424.82,437.85 L424.9,438.63 L424.96,439.42 L425,440.2 L425,440.5 L425,440.98 L424.98,441.76 L424.94,442.55 L424.9,443.33 L424.84,444.12 L424.79,444.9 L424.72,445.68 L424.7,446 L424.66,446.46 L424.56,447.24 L424.45,448.02 L424.34,448.79 L424.24,449.57 L424.2,450 L424.17,450.38 L424.12,451.35 L424.09,452.39 L424.05,453.33 L423.99,454.02 L423.9,454.3 L423.9,454.3 L423.58,454.3 L422.86,454.3 L421.88,454.3 L420.8,454.3 L420.8,454.3 L419.72,454.3 L418.74,454.3 L418.02,454.3 L417.7,454.3 L417.7,454.3 L417.61,454.02 L417.55,453.33 L417.51,452.39 L417.48,451.35 L417.43,450.38 L417.4,450 L417.36,449.57 L417.26,448.79 L417.15,448.02 L417.04,447.24 L416.94,446.46 L416.9,446 L416.88,445.68 L416.81,444.9 L416.76,444.12 L416.7,443.33 L416.66,442.55 L416.62,441.76 L416.6,440.98 L416.6,440.5 L416.6,440.2 L416.64,439.42 L416.7,438.63 L416.78,437.85 L416.87,437.07 L416.96,436.29 L417,436 L417.06,435.52 L417.19,434.74 L417.33,433.97 L417.49,433.2 L417.65,432.43 L417.79,431.66 L417.9,431 L417.92,430.89 L418.04,430.11 L418.15,429.34 L418.27,428.56 L418.38,427.78 L418.49,427 L418.59,426.23 L418.67,425.45 L418.75,424.67 L418.8,424 L418.81,423.88 L418.85,423.02 L418.89,422.06 L418.91,421.04 L418.93,420 L418.95,418.97 L418.97,418 L418.99,417.12 L419.02,416.37 L419.07,415.79 L419.13,415.42 L419.2,415.3 L419.2,415.3 L419.81,415.3 L420.8,415.3Z" fill="#E07A6D" stroke="#0a0a0a" stroke-width="0.75" stroke-linejoin="round"/>
<line x1="420.8" y1="415.3" x2="420.8" y2="454.3" stroke="#050505" stroke-width="0.85"/>
<rect x="418.5" y="432.8" width="4.6" height="16.5" fill="#E07A6D" stroke="#050505" stroke-width="0.85"/>
<line x1="418.5" y1="439.9" x2="423.1" y2="439.9" stroke="#050505" stroke-width="1.65"/>
<path d="M465,425.2 L466.04,425.2 L466.95,425.2 L467.3,425.2 L467.3,425.2 L467.32,425.37 L467.33,425.78 L467.34,426.39 L467.35,427.17 L467.36,428.08 L467.36,429.08 L467.36,430.13 L467.37,431.18 L467.38,432.21 L467.39,433.17 L467.4,434 L467.4,434.03 L467.43,434.82 L467.48,435.61 L467.56,436.41 L467.64,437.2 L467.74,437.99 L467.84,438.78 L467.94,439.57 L468,440 L468.05,440.35 L468.18,441.14 L468.32,441.92 L468.48,442.7 L468.64,443.48 L468.8,444.26 L468.95,445.04 L469.08,445.82 L469.1,446 L469.19,446.61 L469.3,447.4 L469.42,448.19 L469.52,448.98 L469.61,449.77 L469.67,450.56 L469.7,451.35 L469.7,451.5 L469.68,452.14 L469.62,452.94 L469.53,453.73 L469.42,454.52 L469.3,455.31 L469.2,456 L469.19,456.1 L469.09,457.04 L468.99,458.08 L468.86,458.98 L468.7,459.53 L468.6,459.6 L468.43,459.6 L467.88,459.6 L467.08,459.6 L466.09,459.6 L465,459.6 L465,459.6 L463.91,459.6 L462.92,459.6 L462.12,459.6 L461.57,459.6 L461.4,459.6 L461.3,459.53 L461.14,458.98 L461.01,458.08 L460.91,457.04 L460.81,456.1 L460.8,456 L460.7,455.31 L460.58,454.52 L460.47,453.73 L460.38,452.94 L460.32,452.14 L460.3,451.5 L460.3,451.35 L460.33,450.56 L460.39,449.77 L460.48,448.98 L460.58,448.19 L460.7,447.4 L460.81,446.61 L460.9,446 L460.92,445.82 L461.05,445.04 L461.2,444.26 L461.36,443.48 L461.52,442.7 L461.68,441.92 L461.82,441.14 L461.95,440.35 L462,440 L462.06,439.57 L462.16,438.78 L462.26,437.99 L462.36,437.2 L462.44,436.41 L462.52,435.61 L462.57,434.82 L462.6,434.03 L462.6,434 L462.61,433.17 L462.62,432.21 L462.63,431.18 L462.64,430.13 L462.64,429.08 L462.64,428.08 L462.65,427.17 L462.66,426.39 L462.67,425.78 L462.68,425.37 L462.7,425.2 L462.7,425.2 L463.05,425.2 L463.96,425.2 L465,425.2Z" fill="#E07A6D" stroke="#0a0a0a" stroke-width="0.75" stroke-linejoin="round"/>
<line x1="465" y1="425.2" x2="465" y2="459.6" stroke="#050505" stroke-width="0.85"/>
<rect x="462.7" y="434.4" width="4.6" height="19.2" fill="#E07A6D" stroke="#050505" stroke-width="0.85"/>
<line x1="462.7" y1="449.9" x2="467.3" y2="449.9" stroke="#050505" stroke-width="1.65"/>
<text x="66.3" y="499.2" font-size="7.5" text-anchor="middle" font-weight="normal" fill="#000" stroke="#000" stroke-width="0.16">0.042</text>
<text x="110.6" y="499.2" font-size="7.5" text-anchor="middle" font-weight="normal" fill="#000" stroke="#000" stroke-width="0.16">0.041</text>
<text x="154.9" y="499.2" font-size="7.5" text-anchor="middle" font-weight="normal" fill="#000" stroke="#000" stroke-width="0.16">0.0309</text>
<text x="199.2" y="499.2" font-size="7.5" text-anchor="middle" font-weight="normal" fill="#000" stroke="#000" stroke-width="0.16">0.0099</text>
<text x="243.5" y="499.2" font-size="7.5" text-anchor="middle" font-weight="normal" fill="#000" stroke="#000" stroke-width="0.16">0.0085</text>
<text x="287.8" y="499.2" font-size="7.5" text-anchor="middle" font-weight="normal" fill="#000" stroke="#000" stroke-width="0.16">0.0066</text>
<text x="332.1" y="499.2" font-size="7.5" text-anchor="middle" font-weight="normal" fill="#000" stroke="#000" stroke-width="0.16">0.0021</text>
<text x="376.4" y="499.2" font-size="7.5" text-anchor="middle" font-weight="normal" fill="#000" stroke="#000" stroke-width="0.16">0.0017</text>
<text x="420.7" y="499.2" font-size="7.5" text-anchor="middle" font-weight="normal" fill="#000" stroke="#000" stroke-width="0.16">0.0012</text>
<text x="465" y="499.2" font-size="7.5" text-anchor="middle" font-weight="normal" fill="#000" stroke="#000" stroke-width="0.16">8e−04</text>
<text x="66.3" y="512.8" font-size="6.2" text-anchor="middle" font-weight="normal" fill="#000" stroke="#000" stroke-width="0.16">GC;PB</text>
<text x="110.6" y="512.8" font-size="6.2" text-anchor="middle" font-weight="normal" fill="#000" stroke="#000" stroke-width="0.16">Unsorted;GC</text>
<text x="154.9" y="512.8" font-size="6.2" text-anchor="middle" font-weight="normal" fill="#000" stroke="#000" stroke-width="0.16">Unsorted;PB</text>
<text x="199.2" y="512.8" font-size="6.2" text-anchor="middle" font-weight="normal" fill="#000" stroke="#000" stroke-width="0.16">GC;Bmem</text>
<text x="243.5" y="512.8" font-size="6.2" text-anchor="middle" font-weight="normal" fill="#000" stroke="#000" stroke-width="0.16">Bmem;PB</text>
<text x="287.8" y="512.8" font-size="6.2" text-anchor="middle" font-weight="normal" fill="#000" stroke="#000" stroke-width="0.16">Unsorted;Bmem</text>
<text x="332.1" y="512.8" font-size="6.2" text-anchor="middle" font-weight="normal" fill="#000" stroke="#000" stroke-width="0.16">Unsorted;Naive</text>
<text x="376.4" y="512.8" font-size="6.2" text-anchor="middle" font-weight="normal" fill="#000" stroke="#000" stroke-width="0.16">Naive;GC</text>
<text x="420.7" y="512.8" font-size="6.2" text-anchor="middle" font-weight="normal" fill="#000" stroke="#000" stroke-width="0.16">Naive;PB</text>
<text x="465" y="512.8" font-size="6.2" text-anchor="middle" font-weight="normal" fill="#000" stroke="#000" stroke-width="0.16">Naive;Bmem</text>
<text x="265.7" y="524" font-size="9.7" text-anchor="middle" font-weight="normal" fill="#000" stroke="#000" stroke-width="0.16">B−cell subset</text>
<path d="M533.4,334.9 V501.7 H686" fill="none" stroke="#1a1a1a" stroke-width="1.0"/>
<line x1="530.7" y1="343.2" x2="533.4" y2="343.2" stroke="#1a1a1a" stroke-width="1.0"/>
<line x1="530.7" y1="379.1" x2="533.4" y2="379.1" stroke="#1a1a1a" stroke-width="1.0"/>
<line x1="530.7" y1="414.9" x2="533.4" y2="414.9" stroke="#1a1a1a" stroke-width="1.0"/>
<line x1="530.7" y1="450.8" x2="533.4" y2="450.8" stroke="#1a1a1a" stroke-width="1.0"/>
<line x1="530.7" y1="479.7" x2="533.4" y2="479.7" stroke="#1a1a1a" stroke-width="1.0"/>
<line x1="530.7" y1="487" x2="533.4" y2="487" stroke="#1a1a1a" stroke-width="1.0"/>
<line x1="574.6" y1="501.7" x2="574.6" y2="504.4" stroke="#1a1a1a" stroke-width="1.0"/>
<line x1="643.4" y1="501.7" x2="643.4" y2="504.4" stroke="#1a1a1a" stroke-width="1.0"/>
<text x="528.7" y="346.1" font-size="8.2" text-anchor="end" font-weight="normal" fill="#000" stroke="#000" stroke-width="0.16">1e−01</text>
<text x="528.7" y="382" font-size="8.2" text-anchor="end" font-weight="normal" fill="#000" stroke="#000" stroke-width="0.16">1e−02</text>
<text x="528.7" y="417.8" font-size="8.2" text-anchor="end" font-weight="normal" fill="#000" stroke="#000" stroke-width="0.16">1e−03</text>
<text x="528.7" y="453.7" font-size="8.2" text-anchor="end" font-weight="normal" fill="#000" stroke="#000" stroke-width="0.16">1e−04</text>
<text x="528.7" y="482.6" font-size="8.2" text-anchor="end" font-weight="normal" fill="#000" stroke="#000" stroke-width="0.16">1e−05</text>
<text x="528.7" y="489.9" font-size="8.2" text-anchor="end" font-weight="normal" fill="#000" stroke="#000" stroke-width="0.16">0e+00</text>
<text x="501" y="418.5" font-size="9.7" text-anchor="middle" font-weight="normal" fill="#000" stroke="#000" stroke-width="0.16" transform="rotate(-90 501 418.5)">CDRH3 Jaccard overlap</text>
<path d="M574.6,349.2 V342.6 H643.4 V349.2" fill="none" stroke="#111" stroke-width="0.65"/>
<text x="609" y="341.2" font-size="4.6" text-anchor="middle" font-weight="normal" fill="#000" stroke="#000" stroke-width="0.16">3.03e−57</text>
<path d="M574.7,399.1 L575.63,399.1 L575.9,399.1 L575.96,399.14 L576.07,399.49 L576.14,400.13 L576.19,400.98 L576.23,401.96 L576.27,402.98 L576.32,403.98 L576.39,404.87 L576.4,405 L576.48,405.64 L576.58,406.41 L576.69,407.18 L576.82,407.95 L576.95,408.71 L577.1,409.48 L577.2,410 L577.25,410.24 L577.42,410.99 L577.61,411.74 L577.82,412.49 L578.04,413.24 L578.28,413.98 L578.51,414.72 L578.6,415 L578.75,415.46 L579,416.2 L579.26,416.94 L579.52,417.67 L579.81,418.4 L580.1,419.11 L580.42,419.82 L580.5,420 L580.75,420.51 L581.1,421.2 L581.48,421.88 L581.88,422.56 L582.29,423.22 L582.72,423.87 L583.16,424.52 L583.5,425 L583.6,425.14 L584.07,425.76 L584.55,426.37 L585.04,426.96 L585.56,427.55 L586.08,428.13 L586.6,428.71 L587.14,429.28 L587.67,429.85 L587.9,430.1 L588.2,430.41 L588.75,430.96 L589.32,431.5 L589.9,432.03 L590.49,432.55 L591.07,433.08 L591.65,433.61 L592.22,434.14 L592.76,434.69 L593.29,435.25 L593.78,435.83 L594,436.1 L594.25,436.43 L594.73,437.05 L595.21,437.68 L595.68,438.33 L596.13,439 L596.55,439.67 L596.93,440.36 L597.25,441.06 L597.51,441.77 L597.6,442.1 L597.7,442.49 L597.88,443.23 L598.04,444 L598.19,444.79 L598.3,445.57 L598.37,446.35 L598.4,447.1 L598.4,447.11 L598.34,447.86 L598.18,448.62 L597.93,449.37 L597.63,450.11 L597.3,450.84 L596.96,451.56 L596.7,452.1 L596.63,452.25 L596.26,452.91 L595.85,453.57 L595.39,454.21 L594.92,454.83 L594.43,455.45 L594,456 L593.95,456.06 L593.47,456.67 L592.97,457.26 L592.45,457.85 L591.93,458.43 L591.41,459 L590.88,459.57 L590.4,460.1 L590.36,460.15 L589.83,460.71 L589.28,461.27 L588.74,461.83 L588.19,462.38 L587.65,462.94 L587.13,463.51 L586.7,464 L586.62,464.09 L586.11,464.69 L585.6,465.28 L585.1,465.89 L584.61,466.5 L584.15,467.13 L583.74,467.78 L583.5,468.2 L583.37,468.44 L582.98,469.13 L582.6,469.85 L582.26,470.58 L582.02,471.32 L581.9,472.06 L581.9,472.2 L581.93,472.83 L582.03,473.64 L582.19,474.43 L582.38,475.14 L582.4,475.2 L582.65,475.74 L583.07,476.32 L583.62,476.87 L584.26,477.38 L584.96,477.87 L585.69,478.33 L586.42,478.75 L587.1,479.14 L587.2,479.2 L587.76,479.51 L588.43,479.86 L589.12,480.19 L589.82,480.51 L590.54,480.81 L591.26,481.1 L592,481.38 L592.74,481.65 L593.48,481.91 L594.22,482.17 L594.97,482.43 L595.71,482.68 L596.45,482.94 L597.19,483.2 L597.2,483.2 L597.93,483.44 L598.7,483.66 L599.49,483.86 L600.28,484.05 L601.07,484.24 L601.86,484.44 L602.62,484.65 L603.36,484.88 L604.06,485.15 L604.71,485.46 L605.3,485.8 L605.32,485.81 L605.93,486.39 L606,486.6 L605.72,487.08 L605.5,487.2 L605.13,487.2 L604.55,487.2 L603.97,487.2 L603.38,487.2 L602.78,487.2 L602.17,487.2 L601.55,487.2 L600.92,487.2 L600.29,487.2 L599.64,487.2 L598.99,487.2 L598.32,487.2 L597.65,487.2 L596.97,487.2 L596.27,487.2 L595.56,487.2 L594.84,487.2 L594.12,487.2 L593.37,487.2 L592.62,487.2 L591.86,487.2 L591.08,487.2 L590.29,487.2 L589.49,487.2 L588.67,487.2 L587.84,487.2 L587,487.2 L586.14,487.2 L585.27,487.2 L584.39,487.2 L583.49,487.2 L582.57,487.2 L581.64,487.2 L580.7,487.2 L579.74,487.2 L578.76,487.2 L577.77,487.2 L576.76,487.2 L575.74,487.2 L574.7,487.2 L574.7,487.2 L573.66,487.2 L572.64,487.2 L571.63,487.2 L570.64,487.2 L569.66,487.2 L568.7,487.2 L567.76,487.2 L566.83,487.2 L565.91,487.2 L565.01,487.2 L564.13,487.2 L563.26,487.2 L562.4,487.2 L561.56,487.2 L560.73,487.2 L559.91,487.2 L559.11,487.2 L558.32,487.2 L557.54,487.2 L556.78,487.2 L556.03,487.2 L555.28,487.2 L554.56,487.2 L553.84,487.2 L553.13,487.2 L552.43,487.2 L551.75,487.2 L551.08,487.2 L550.41,487.2 L549.76,487.2 L549.11,487.2 L548.48,487.2 L547.85,487.2 L547.23,487.2 L546.62,487.2 L546.02,487.2 L545.43,487.2 L544.85,487.2 L544.27,487.2 L543.9,487.2 L543.68,487.08 L543.4,486.6 L543.47,486.39 L544.08,485.81 L544.1,485.8 L544.69,485.46 L545.34,485.15 L546.04,484.88 L546.78,484.65 L547.54,484.44 L548.33,484.24 L549.12,484.05 L549.91,483.86 L550.7,483.66 L551.47,483.44 L552.2,483.2 L552.21,483.2 L552.95,482.94 L553.69,482.68 L554.43,482.43 L555.18,482.17 L555.92,481.91 L556.66,481.65 L557.4,481.38 L558.14,481.1 L558.86,480.81 L559.58,480.51 L560.28,480.19 L560.97,479.86 L561.64,479.51 L562.2,479.2 L562.3,479.14 L562.98,478.75 L563.71,478.33 L564.44,477.87 L565.14,477.38 L565.78,476.87 L566.33,476.32 L566.75,475.74 L567,475.2 L567.02,475.14 L567.21,474.43 L567.37,473.64 L567.47,472.83 L567.5,472.2 L567.5,472.06 L567.38,471.32 L567.14,470.58 L566.8,469.85 L566.42,469.13 L566.03,468.44 L565.9,468.2 L565.66,467.78 L565.25,467.13 L564.79,466.5 L564.3,465.89 L563.8,465.28 L563.29,464.69 L562.78,464.09 L562.7,464 L562.27,463.51 L561.75,462.94 L561.21,462.38 L560.66,461.83 L560.12,461.27 L559.57,460.71 L559.04,460.15 L559,460.1 L558.52,459.57 L557.99,459 L557.47,458.43 L556.95,457.85 L556.43,457.26 L555.93,456.67 L555.45,456.06 L555.4,456 L554.97,455.45 L554.48,454.83 L554.01,454.21 L553.55,453.57 L553.14,452.91 L552.77,452.25 L552.7,452.1 L552.44,451.56 L552.1,450.84 L551.77,450.11 L551.47,449.37 L551.22,448.62 L551.06,447.86 L551,447.11 L551,447.1 L551.03,446.35 L551.1,445.57 L551.21,444.79 L551.36,444 L551.52,443.23 L551.7,442.49 L551.8,442.1 L551.89,441.77 L552.15,441.06 L552.47,440.36 L552.85,439.67 L553.27,439 L553.72,438.33 L554.19,437.68 L554.67,437.05 L555.15,436.43 L555.4,436.1 L555.62,435.83 L556.11,435.25 L556.64,434.69 L557.18,434.14 L557.75,433.61 L558.33,433.08 L558.91,432.55 L559.5,432.03 L560.08,431.5 L560.65,430.96 L561.2,430.41 L561.5,430.1 L561.73,429.85 L562.26,429.28 L562.8,428.71 L563.32,428.13 L563.84,427.55 L564.36,426.96 L564.85,426.37 L565.33,425.76 L565.8,425.14 L565.9,425 L566.24,424.52 L566.68,423.87 L567.11,423.22 L567.52,422.56 L567.92,421.88 L568.3,421.2 L568.65,420.51 L568.9,420 L568.98,419.82 L569.3,419.11 L569.59,418.4 L569.88,417.67 L570.14,416.94 L570.4,416.2 L570.65,415.46 L570.8,415 L570.89,414.72 L571.12,413.98 L571.36,413.24 L571.58,412.49 L571.79,411.74 L571.98,410.99 L572.15,410.24 L572.2,410 L572.3,409.48 L572.45,408.71 L572.58,407.95 L572.71,407.18 L572.82,406.41 L572.92,405.64 L573,405 L573.01,404.87 L573.08,403.98 L573.13,402.98 L573.17,401.96 L573.21,400.98 L573.26,400.13 L573.33,399.49 L573.44,399.14 L573.5,399.1 L573.77,399.1 L574.7,399.1Z" fill="#E07A6D" stroke="#0a0a0a" stroke-width="0.75" stroke-linejoin="round"/>
<line x1="574.7" y1="399.1" x2="574.7" y2="487.2" stroke="#050505" stroke-width="0.85"/>
<rect x="572.7" y="443.1" width="4" height="44.1" fill="#E07A6D" stroke="#050505" stroke-width="0.85"/>
<line x1="572.7" y1="456.1" x2="576.7" y2="456.1" stroke="#050505" stroke-width="1.65"/>
<path d="M643.5,351.2 L644.62,351.2 L645.71,351.2 L646.76,351.2 L647.73,351.2 L648.6,351.2 L649.34,351.2 L649.92,351.2 L650.32,351.2 L650.5,351.2 L650.5,351.2 L650.55,351.33 L650.59,351.71 L650.61,352.31 L650.64,353.08 L650.65,353.98 L650.67,354.96 L650.69,355.98 L650.71,357.01 L650.74,357.99 L650.78,358.89 L650.8,359.3 L650.83,359.67 L650.91,360.44 L651.03,361.21 L651.17,361.97 L651.32,362.74 L651.49,363.49 L651.6,364 L651.66,364.25 L651.85,364.99 L652.07,365.74 L652.31,366.48 L652.56,367.21 L652.8,367.9 L652.81,367.94 L653.08,368.67 L653.37,369.39 L653.66,370.1 L653.97,370.81 L654.28,371.52 L654.5,372 L654.6,372.23 L654.95,372.92 L655.31,373.61 L655.68,374.29 L656.04,374.98 L656.38,375.67 L656.69,376.38 L656.7,376.4 L656.97,377.09 L657.25,377.81 L657.52,378.54 L657.78,379.27 L658.03,380 L658.27,380.74 L658.51,381.48 L658.73,382.23 L658.95,382.97 L659.16,383.72 L659.36,384.46 L659.5,385 L659.55,385.21 L659.74,385.96 L659.92,386.71 L660.09,387.47 L660.26,388.22 L660.43,388.98 L660.58,389.74 L660.74,390.5 L660.88,391.26 L661.02,392.02 L661.16,392.79 L661.29,393.55 L661.3,393.6 L661.42,394.31 L661.55,395.07 L661.69,395.84 L661.82,396.6 L661.94,397.37 L662.06,398.14 L662.18,398.9 L662.28,399.67 L662.36,400.44 L662.44,401.21 L662.49,401.98 L662.5,402.1 L662.54,402.75 L662.58,403.52 L662.62,404.3 L662.65,405.07 L662.69,405.85 L662.72,406.62 L662.74,407.4 L662.77,408.17 L662.78,408.95 L662.79,409.72 L662.8,410.49 L662.8,410.7 L662.79,411.26 L662.72,412.03 L662.61,412.8 L662.47,413.57 L662.31,414.34 L662.13,415.1 L661.94,415.85 L661.8,416.4 L661.75,416.58 L661.54,417.31 L661.29,418.03 L661,418.74 L660.69,419.45 L660.36,420.15 L660.01,420.85 L659.64,421.55 L659.27,422.24 L658.9,422.93 L658.52,423.62 L658.16,424.31 L657.8,425 L657.8,425 L657.45,425.68 L657.08,426.37 L656.71,427.05 L656.33,427.72 L655.95,428.4 L655.56,429.07 L655.18,429.74 L654.79,430.42 L654.42,431.09 L654.04,431.77 L653.68,432.45 L653.33,433.14 L653.1,433.6 L652.99,433.83 L652.65,434.53 L652.31,435.23 L651.98,435.93 L651.64,436.63 L651.32,437.34 L651,438.05 L650.69,438.76 L650.39,439.47 L650.1,440.19 L649.82,440.91 L649.56,441.63 L649.4,442.1 L649.31,442.36 L649.08,443.09 L648.84,443.83 L648.62,444.57 L648.4,445.32 L648.19,446.07 L647.99,446.82 L647.8,447.57 L647.61,448.32 L647.44,449.08 L647.27,449.84 L647.12,450.59 L647.1,450.7 L646.98,451.35 L646.84,452.11 L646.71,452.87 L646.58,453.64 L646.47,454.4 L646.35,455.17 L646.24,455.94 L646.13,456.7 L646.03,457.47 L645.93,458.24 L645.84,459.01 L645.8,459.3 L645.74,459.78 L645.65,460.55 L645.56,461.31 L645.47,462.08 L645.38,462.85 L645.3,463.62 L645.21,464.39 L645.14,465.16 L645.06,465.93 L645,466.71 L644.93,467.48 L644.9,467.9 L644.87,468.25 L644.82,469.02 L644.77,469.79 L644.72,470.56 L644.67,471.34 L644.63,472.11 L644.59,472.88 L644.55,473.66 L644.5,474.43 L644.46,475.2 L644.42,475.98 L644.4,476.4 L644.38,476.76 L644.35,477.63 L644.32,478.59 L644.3,479.59 L644.29,480.62 L644.27,481.64 L644.25,482.63 L644.22,483.57 L644.19,484.41 L644.15,485.14 L644.1,485.73 L644.03,486.15 L643.95,486.37 L643.9,486.4 L643.5,486.4 L643.5,486.4 L643.1,486.4 L643.05,486.37 L642.97,486.15 L642.9,485.73 L642.85,485.14 L642.81,484.41 L642.78,483.57 L642.75,482.63 L642.73,481.64 L642.71,480.62 L642.7,479.59 L642.68,478.59 L642.65,477.63 L642.62,476.76 L642.6,476.4 L642.58,475.98 L642.54,475.2 L642.5,474.43 L642.45,473.66 L642.41,472.88 L642.37,472.11 L642.33,471.34 L642.28,470.56 L642.23,469.79 L642.18,469.02 L642.13,468.25 L642.1,467.9 L642.07,467.48 L642,466.71 L641.94,465.93 L641.86,465.16 L641.79,464.39 L641.7,463.62 L641.62,462.85 L641.53,462.08 L641.44,461.31 L641.35,460.55 L641.26,459.78 L641.2,459.3 L641.16,459.01 L641.07,458.24 L640.97,457.47 L640.87,456.7 L640.76,455.94 L640.65,455.17 L640.53,454.4 L640.42,453.64 L640.29,452.87 L640.16,452.11 L640.02,451.35 L639.9,450.7 L639.88,450.59 L639.73,449.84 L639.56,449.08 L639.39,448.32 L639.2,447.57 L639.01,446.82 L638.81,446.07 L638.6,445.32 L638.38,444.57 L638.16,443.83 L637.92,443.09 L637.69,442.36 L637.6,442.1 L637.44,441.63 L637.18,440.91 L636.9,440.19 L636.61,439.47 L636.31,438.76 L636,438.05 L635.68,437.34 L635.36,436.63 L635.02,435.93 L634.69,435.23 L634.35,434.53 L634.01,433.83 L633.9,433.6 L633.67,433.14 L633.32,432.45 L632.96,431.77 L632.58,431.09 L632.21,430.42 L631.82,429.74 L631.44,429.07 L631.05,428.4 L630.67,427.72 L630.29,427.05 L629.92,426.37 L629.55,425.68 L629.2,425 L629.2,425 L628.84,424.31 L628.48,423.62 L628.1,422.93 L627.73,422.24 L627.36,421.55 L626.99,420.85 L626.64,420.15 L626.31,419.45 L626,418.74 L625.71,418.03 L625.46,417.31 L625.25,416.58 L625.2,416.4 L625.06,415.85 L624.87,415.1 L624.69,414.34 L624.53,413.57 L624.39,412.8 L624.28,412.03 L624.21,411.26 L624.2,410.7 L624.2,410.49 L624.21,409.72 L624.22,408.95 L624.23,408.17 L624.26,407.4 L624.28,406.62 L624.31,405.85 L624.35,405.07 L624.38,404.3 L624.42,403.52 L624.46,402.75 L624.5,402.1 L624.51,401.98 L624.56,401.21 L624.64,400.44 L624.72,399.67 L624.82,398.9 L624.94,398.14 L625.06,397.37 L625.18,396.6 L625.31,395.84 L625.45,395.07 L625.58,394.31 L625.7,393.6 L625.71,393.55 L625.84,392.79 L625.98,392.02 L626.12,391.26 L626.26,390.5 L626.42,389.74 L626.57,388.98 L626.74,388.22 L626.91,387.47 L627.08,386.71 L627.26,385.96 L627.45,385.21 L627.5,385 L627.64,384.46 L627.84,383.72 L628.05,382.97 L628.27,382.23 L628.49,381.48 L628.73,380.74 L628.97,380 L629.22,379.27 L629.48,378.54 L629.75,377.81 L630.03,377.09 L630.3,376.4 L630.31,376.38 L630.62,375.67 L630.96,374.98 L631.32,374.29 L631.69,373.61 L632.05,372.92 L632.4,372.23 L632.5,372 L632.72,371.52 L633.03,370.81 L633.34,370.1 L633.63,369.39 L633.92,368.67 L634.19,367.94 L634.2,367.9 L634.44,367.21 L634.69,366.48 L634.93,365.74 L635.15,364.99 L635.34,364.25 L635.4,364 L635.51,363.49 L635.68,362.74 L635.83,361.97 L635.97,361.21 L636.09,360.44 L636.17,359.67 L636.2,359.3 L636.22,358.89 L636.26,357.99 L636.29,357.01 L636.31,355.98 L636.33,354.96 L636.35,353.98 L636.36,353.08 L636.39,352.31 L636.41,351.71 L636.45,351.33 L636.5,351.2 L636.5,351.2 L636.68,351.2 L637.08,351.2 L637.66,351.2 L638.4,351.2 L639.27,351.2 L640.24,351.2 L641.29,351.2 L642.38,351.2 L643.5,351.2Z" fill="#E07A6D" stroke="#0a0a0a" stroke-width="0.75" stroke-linejoin="round"/>
<line x1="643.5" y1="351.2" x2="643.5" y2="484" stroke="#050505" stroke-width="0.85"/>
<rect x="641.2" y="383.6" width="4.6" height="34.8" fill="#E07A6D" stroke="#050505" stroke-width="0.85"/>
<line x1="641.2" y1="404.1" x2="645.8" y2="404.1" stroke="#050505" stroke-width="1.65"/>
<circle cx="643.5" cy="486" r="1.7" fill="#000"/>
<text x="574.6" y="496.9" font-size="7.5" text-anchor="middle" font-weight="normal" fill="#000" stroke="#000" stroke-width="0.16">7e−05</text>
<text x="643.4" y="496.9" font-size="7.5" text-anchor="middle" font-weight="normal" fill="#000" stroke="#000" stroke-width="0.16">0.00193</text>
<text x="574.6" y="512.8" font-size="8.3" text-anchor="middle" font-weight="normal" fill="#000" stroke="#000" stroke-width="0.16">Different donors</text>
<text x="643.4" y="512.8" font-size="8.3" text-anchor="middle" font-weight="normal" fill="#000" stroke="#000" stroke-width="0.16">Same donor</text>
<text x="609" y="523.5" font-size="9.7" text-anchor="middle" font-weight="normal" fill="#000" stroke="#000" stroke-width="0.16">Donor ID</text>
</g>
</svg>
</body></html>
